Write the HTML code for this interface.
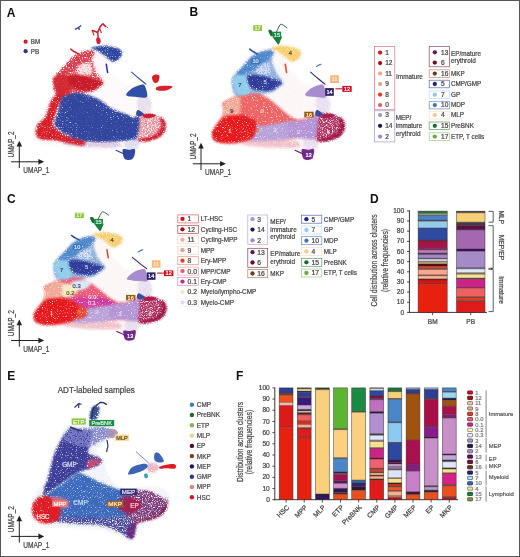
<!DOCTYPE html>
<html><head><meta charset="utf-8"><style>
html,body{margin:0;padding:0;background:#fff;width:520px;height:557px;overflow:hidden;font-family:"Liberation Sans",sans-serif;}
</style></head><body>
<svg width="520" height="557" viewBox="0 0 520 557" style="position:absolute;left:0;top:0;will-change:transform" font-family="Liberation Sans, sans-serif">
<defs>
<filter id="sc" x="-5%" y="-5%" width="110%" height="110%" color-interpolation-filters="sRGB">
  <feGaussianBlur in="SourceGraphic" stdDeviation="1.3" result="sg"/>
  <feGaussianBlur in="SourceAlpha" stdDeviation="1.6" result="ba"/>
  <feTurbulence type="fractalNoise" baseFrequency="0.8" numOctaves="2" seed="7" result="noise"/>
  <feColorMatrix in="noise" type="matrix" values="0 0 0 0 0  0 0 0 0 0  0 0 0 0 0  1 0 0 0 0" result="na"/>
  <feComposite in="na" in2="ba" operator="arithmetic" k1="0" k2="3.5" k3="1.0" k4="-1.45" result="m"/>
  <feComposite in="sg" in2="m" operator="in" result="r"/>
  <feGaussianBlur in="r" stdDeviation="0.45"/>
</filter>
<filter id="scs" x="-5%" y="-5%" width="110%" height="110%" color-interpolation-filters="sRGB">
  <feGaussianBlur in="SourceGraphic" stdDeviation="1.3" result="sg"/>
  <feGaussianBlur in="SourceAlpha" stdDeviation="1.6" result="ba"/>
  <feTurbulence type="fractalNoise" baseFrequency="0.8" numOctaves="2" seed="11" result="noise"/>
  <feColorMatrix in="noise" type="matrix" values="0 0 0 0 0  0 0 0 0 0  0 0 0 0 0  1 0 0 0 0" result="na"/>
  <feComposite in="na" in2="ba" operator="arithmetic" k1="0" k2="3.5" k3="1.0" k4="-1.85" result="m"/>
  <feComposite in="sg" in2="m" operator="in" result="r"/>
  <feGaussianBlur in="r" stdDeviation="0.45"/>
</filter>
</defs>
<rect x="0" y="0" width="520" height="557" fill="#ffffff"/>
<text x="6.8" y="16.6" font-size="12" fill="#111" font-weight="bold" >A</text>
<text x="189.6" y="16.3" font-size="12" fill="#111" font-weight="bold" >B</text>
<text x="7.0" y="202.5" font-size="12" fill="#111" font-weight="bold" >C</text>
<text x="370.0" y="203.0" font-size="12" fill="#111" font-weight="bold" >D</text>
<text x="7.2" y="379.6" font-size="12" fill="#111" font-weight="bold" >E</text>
<text x="236.0" y="379.6" font-size="12" fill="#111" font-weight="bold" >F</text>
<g filter="url(#sc)"><g transform="translate(-179,0)">
<path d="M211.0,137.0 C210.5,134.5 211.2,130.8 212.0,128.0 C212.8,125.2 214.3,122.7 216.0,120.0 C217.7,117.3 220.7,114.8 222.0,112.0 C223.3,109.2 222.7,105.5 224.0,103.0 C225.3,100.5 228.7,99.5 230.0,97.0 C231.3,94.5 231.7,91.2 232.0,88.0 C232.3,84.8 231.0,81.0 232.0,78.0 C233.0,75.0 235.7,73.0 238.0,70.0 C240.3,67.0 244.0,62.7 246.0,60.0 C248.0,57.3 247.3,55.8 250.0,54.0 C252.7,52.2 258.7,50.2 262.0,49.0 C265.3,47.8 266.7,47.7 270.0,47.0 C273.3,46.3 278.0,45.2 282.0,45.0 C286.0,44.8 290.8,45.0 294.0,46.0 C297.2,47.0 299.8,49.0 301.0,51.0 C302.2,53.0 302.2,56.0 301.0,58.0 C299.8,60.0 296.2,61.7 294.0,63.0 C291.8,64.3 287.7,63.8 288.0,66.0 C288.3,68.2 293.3,73.0 296.0,76.0 C298.7,79.0 301.3,82.7 304.0,84.0 C306.7,85.3 309.0,84.2 312.0,84.0 C315.0,83.8 319.3,82.3 322.0,83.0 C324.7,83.7 327.0,85.5 328.0,88.0 C329.0,90.5 328.3,95.0 328.0,98.0 C327.7,101.0 325.7,103.7 326.0,106.0 C326.3,108.3 327.8,110.5 330.0,112.0 C332.2,113.5 336.7,113.5 339.0,115.0 C341.3,116.5 343.3,118.3 344.0,121.0 C344.7,123.7 344.2,128.3 343.0,131.0 C341.8,133.7 340.5,135.3 337.0,137.0 C333.5,138.7 325.2,139.5 322.0,141.0 C318.8,142.5 319.2,143.2 318.0,146.0 C316.8,148.8 316.7,155.5 315.0,158.0 C313.3,160.5 310.5,161.8 308.0,161.0 C305.5,160.2 303.0,154.8 300.0,153.0 C297.0,151.2 295.0,150.5 290.0,150.0 C285.0,149.5 277.0,150.3 270.0,150.0 C263.0,149.7 254.7,148.7 248.0,148.0 C241.3,147.3 235.5,146.8 230.0,146.0 C224.5,145.2 218.2,144.5 215.0,143.0 C211.8,141.5 211.5,139.5 211.0,137.0Z" fill="#fcf6f8" fill-opacity="0.8"/>
</g></g>
<g filter="url(#scs)"><g transform="translate(-179,0)">
<path d="M251.5,56.5 C253.4,55.0 255.2,54.3 257.3,53.3 C259.4,52.3 261.9,51.1 264.2,50.6 C266.5,50.1 269.6,49.6 271.2,50.0 C272.8,50.4 273.9,51.0 274.0,52.7 C274.1,54.4 271.7,56.8 272.0,60.0 C272.3,63.2 274.1,68.2 276.0,72.0 C277.9,75.8 282.7,80.1 283.2,82.7 C283.7,85.3 280.9,86.0 279.0,87.5 C277.1,89.0 274.8,90.9 272.0,92.0 C269.2,93.1 265.3,93.4 262.0,94.0 C258.7,94.6 255.7,95.0 252.0,95.5 C248.3,96.0 243.1,97.4 240.0,97.0 C236.9,96.6 234.9,95.2 233.5,93.0 C232.1,90.8 231.6,86.8 231.4,84.0 C231.2,81.2 231.4,78.8 232.5,76.5 C233.6,74.2 235.8,72.8 238.0,70.5 C240.2,68.2 243.6,64.8 245.8,62.5 C248.1,60.2 249.6,58.0 251.5,56.5Z" fill="#dc4a58" fill-opacity="1"/>
</g></g>
<g filter="url(#sc)"><g transform="translate(-179,0)">
<path d="M246.0,140.5 C249.3,139.9 256.3,140.6 262.0,140.5 C267.7,140.4 274.3,139.9 280.0,140.0 C285.7,140.1 292.7,140.0 296.0,141.0 C299.3,142.0 301.0,144.8 300.0,146.0 C299.0,147.2 295.0,147.8 290.0,148.0 C285.0,148.2 276.3,147.8 270.0,147.5 C263.7,147.2 256.7,146.6 252.0,146.0 C247.3,145.4 243.0,144.9 242.0,144.0 C241.0,143.1 242.7,141.1 246.0,140.5Z" fill="#d8c8e0" fill-opacity="0.9"/>
<path d="M304.0,139.5 C306.2,138.0 316.0,138.5 318.0,140.0 C320.0,141.5 318.2,147.0 316.0,148.5 C313.8,150.0 307.0,150.5 305.0,149.0 C303.0,147.5 301.8,141.0 304.0,139.5Z" fill="#d8daee" fill-opacity="0.9"/>
<path d="M318.0,96.0 C319.8,94.3 324.8,94.7 327.0,96.0 C329.2,97.3 330.7,101.3 331.0,104.0 C331.3,106.7 330.8,110.5 329.0,112.0 C327.2,113.5 322.2,114.0 320.0,113.0 C317.8,112.0 316.3,108.8 316.0,106.0 C315.7,103.2 316.2,97.7 318.0,96.0Z" fill="#e4dcea" fill-opacity="0.9"/>
<path d="M252.0,124.0 C253.8,122.9 257.5,125.2 260.8,125.2 C264.1,125.2 268.0,124.5 271.6,124.0 C275.2,123.5 279.1,122.7 282.3,122.0 C285.5,121.3 288.1,120.2 291.0,120.0 C293.9,119.8 296.8,120.8 300.0,120.5 C303.2,120.2 306.9,119.4 310.0,118.5 C313.1,117.6 316.9,113.8 318.4,115.2 C319.9,116.6 319.4,123.1 319.0,127.0 C318.6,130.9 317.5,136.4 316.0,138.5 C314.5,140.6 312.7,139.4 310.0,139.3 C307.3,139.2 302.8,138.2 300.0,138.0 C297.2,137.8 296.8,137.9 293.0,138.2 C289.2,138.5 282.4,139.4 277.0,139.8 C271.6,140.2 265.0,140.7 260.8,140.8 C256.6,140.9 253.8,142.1 252.0,140.6 C250.2,139.1 250.0,134.8 250.0,132.0 C250.0,129.2 250.2,125.1 252.0,124.0Z" fill="#3048a0" fill-opacity="1"/>
<path d="M252.0,126.0 C253.8,124.7 258.2,125.6 262.0,125.2 C265.8,124.8 271.2,124.1 275.0,123.6 C278.8,123.1 282.8,120.9 285.0,122.0 C287.2,123.1 287.8,127.2 288.0,130.0 C288.2,132.8 289.0,137.2 286.0,139.0 C283.0,140.8 275.2,140.2 270.0,140.5 C264.8,140.8 258.2,141.8 255.0,140.6 C251.8,139.3 251.5,135.4 251.0,133.0 C250.5,130.6 250.2,127.3 252.0,126.0Z" fill="#3048a0" fill-opacity="1"/>
<path d="M238.5,96.5 C240.2,94.9 246.7,94.7 250.0,94.3 C253.3,93.9 255.9,93.8 258.6,94.3 C261.3,94.8 263.7,96.1 266.2,97.5 C268.7,98.9 271.2,100.9 273.7,102.9 C276.2,104.9 279.0,107.4 281.3,109.4 C283.6,111.4 285.4,113.2 287.7,114.8 C290.0,116.4 293.6,118.0 295.3,119.1 C297.0,120.2 298.7,121.2 298.0,121.5 C297.3,121.8 293.6,120.4 291.0,120.6 C288.4,120.8 285.5,121.8 282.3,122.4 C279.1,123.0 275.2,123.7 271.6,124.3 C268.0,124.9 263.6,126.2 260.8,125.8 C258.0,125.4 257.1,123.5 255.0,122.0 C252.9,120.5 250.5,118.5 248.1,117.0 C245.7,115.5 241.9,115.2 240.5,113.0 C239.1,110.8 240.1,106.8 239.8,104.0 C239.5,101.2 236.8,98.1 238.5,96.5Z" fill="#3a4aa0" fill-opacity="1"/>
<path d="M232.3,88.5 C230.9,89.1 236.4,89.7 235.8,92.0 C235.2,94.3 230.7,98.4 228.8,102.5 C226.9,106.6 226.3,112.8 224.2,116.5 C222.1,120.2 217.6,121.6 216.0,124.7 C214.4,127.8 214.0,132.7 214.8,135.2 C215.6,137.7 217.8,139.0 220.7,139.9 C223.6,140.8 227.8,139.9 232.3,140.5 C236.8,141.1 242.4,142.5 247.5,143.4 C252.6,144.3 260.2,146.3 262.7,145.7 C265.2,145.1 264.2,141.3 262.7,139.9 C261.1,138.5 256.5,138.5 253.4,137.5 C250.3,136.5 246.7,135.3 244.0,134.0 C241.3,132.7 238.9,131.0 237.0,129.4 C235.1,127.9 232.9,126.5 232.3,124.7 C231.7,123.0 232.7,121.6 233.5,118.9 C234.3,116.2 235.8,111.4 237.0,108.3 C238.2,105.2 239.3,102.9 240.5,100.2 C241.7,97.5 243.4,94.0 244.0,92.0 C244.6,90.0 245.9,89.1 244.0,88.5 C242.1,87.9 233.7,87.9 232.3,88.5Z" fill="#d8202a" fill-opacity="1"/>
</g></g>
<g filter="url(#scs)"><g transform="translate(-179,0)">
<path d="M246.0,134.0 C248.3,133.5 255.5,136.3 262.0,137.0 C268.5,137.7 277.8,137.9 285.0,138.0 C292.2,138.1 302.5,137.0 305.0,137.5 C307.5,138.0 304.2,140.2 300.0,141.0 C295.8,141.8 286.3,141.8 280.0,142.0 C273.7,142.2 267.3,142.3 262.0,142.0 C256.7,141.7 250.7,141.3 248.0,140.0 C245.3,138.7 243.7,134.5 246.0,134.0Z" fill="#6a50a0" fill-opacity="0.7"/>
</g></g>
<g filter="url(#sc)"><g transform="translate(-179,0)">
<path d="M241.0,97.0 C242.3,96.0 245.5,94.8 248.0,94.0 C250.5,93.2 253.2,92.5 256.0,92.5 C258.8,92.5 262.1,93.2 265.0,94.0 C267.9,94.8 270.9,95.8 273.6,97.0 C276.3,98.2 278.4,99.3 281.0,101.0 C283.6,102.7 286.3,105.3 289.0,107.0 C291.7,108.7 294.2,109.8 297.0,111.0 C299.8,112.2 303.5,112.8 306.0,114.0 C308.5,115.2 310.5,116.3 312.0,118.0 C313.5,119.7 314.5,121.3 315.0,124.0 C315.5,126.7 316.2,131.3 315.0,134.0 C313.8,136.7 311.2,138.8 308.0,140.0 C304.8,141.2 300.7,141.2 296.0,141.5 C291.3,141.8 285.5,142.2 280.0,142.0 C274.5,141.8 267.4,140.8 263.0,140.0 C258.6,139.2 256.6,138.5 253.4,137.5 C250.2,136.5 246.7,135.3 244.0,134.0 C241.3,132.7 238.8,131.0 237.0,129.4 C235.2,127.9 233.5,126.5 233.0,124.7 C232.5,123.0 233.2,121.6 234.0,118.9 C234.8,116.2 236.5,111.4 237.5,108.3 C238.5,105.2 239.4,102.1 240.0,100.2 C240.6,98.3 239.7,98.0 241.0,97.0Z" fill="#3246a0" fill-opacity="1"/>
</g></g>
<g filter="url(#scs)"><g transform="translate(-179,0)">
<path d="M316.0,139.5 C315.3,136.8 316.6,130.1 317.0,126.0 C317.4,121.9 317.0,117.0 318.4,114.8 C319.8,112.6 322.9,112.8 325.4,112.6 C327.9,112.4 331.1,113.1 333.5,113.8 C335.9,114.5 338.2,115.4 340.0,116.8 C341.8,118.2 343.8,119.8 344.5,122.0 C345.2,124.2 345.2,127.6 344.5,130.0 C343.8,132.4 342.2,134.8 340.0,136.5 C337.8,138.2 334.2,139.6 331.0,140.5 C327.8,141.4 323.5,142.2 321.0,142.0 C318.5,141.8 316.7,142.2 316.0,139.5Z" fill="#e07080" fill-opacity="0.8"/>
</g></g>
<g filter="url(#sc)"><g transform="translate(-179,0)">
<path d="M340.0,116.8 C341.0,117.1 343.8,119.8 344.5,122.0 C345.2,124.2 345.2,127.6 344.5,130.0 C343.8,132.4 342.2,134.8 340.0,136.5 C337.8,138.2 334.2,139.6 331.0,140.5 C327.8,141.4 323.5,142.2 321.0,142.0 C318.5,141.8 315.8,140.2 316.0,139.5 C316.2,138.8 319.7,138.6 322.0,138.0 C324.3,137.4 327.6,137.0 330.0,136.0 C332.4,135.0 334.8,133.8 336.5,132.0 C338.2,130.2 339.7,127.5 340.0,125.5 C340.3,123.5 338.5,121.5 338.5,120.0 C338.5,118.5 339.0,116.5 340.0,116.8Z" fill="#cc2030" fill-opacity="1"/>
<path d="M233.1,76.9 C231.4,78.2 231.7,79.6 231.9,81.5 C232.1,83.4 233.2,86.4 234.2,88.5 C235.2,90.6 235.8,93.0 237.7,94.2 C239.6,95.4 243.8,96.1 245.8,95.6 C247.9,95.1 249.1,92.9 250.0,91.0 C250.9,89.1 251.3,86.2 251.0,84.0 C250.7,81.8 249.4,79.2 248.0,77.5 C246.6,75.8 244.8,73.7 242.3,73.6 C239.8,73.5 234.8,75.6 233.1,76.9Z" fill="#d22a34" fill-opacity="1"/>
</g></g>
<g filter="url(#scs)"><g transform="translate(-179,0)">
<path d="M251.5,57.3 C253.4,55.8 255.2,54.8 257.3,53.8 C259.4,52.8 261.9,51.6 264.2,51.0 C266.5,50.4 269.6,50.1 271.2,50.4 C272.8,50.7 273.9,51.2 273.5,52.7 C273.1,54.2 271.1,57.1 268.8,59.6 C266.5,62.1 262.7,65.6 259.6,67.7 C256.5,69.8 253.3,71.0 250.4,72.3 C247.5,73.5 244.6,75.0 242.3,75.2 C240.0,75.5 236.7,74.9 236.5,73.8 C236.3,72.7 239.6,70.6 241.2,68.8 C242.8,67.0 244.1,64.9 245.8,63.0 C247.5,61.1 249.6,58.8 251.5,57.3Z" fill="#d83a4a" fill-opacity="1"/>
</g></g>
<g filter="url(#sc)"><g transform="translate(-179,0)">
<path d="M257.0,66.0 C258.3,64.7 261.1,63.7 263.0,63.0 C264.9,62.3 267.2,61.3 268.5,62.0 C269.8,62.7 270.6,65.0 271.0,67.0 C271.4,69.0 272.0,72.7 271.0,74.0 C270.0,75.3 267.2,74.9 265.0,75.0 C262.8,75.1 259.7,75.2 258.0,74.5 C256.3,73.8 255.2,72.4 255.0,71.0 C254.8,69.6 255.7,67.3 257.0,66.0Z" fill="#faf0f2" fill-opacity="0.9"/>
<path d="M246.9,75.8 C248.1,74.3 252.3,74.6 255.0,74.6 C257.7,74.6 260.4,75.2 263.1,75.8 C265.8,76.4 268.5,77.3 271.2,78.1 C273.9,78.9 277.3,79.6 279.2,80.4 C281.1,81.2 282.9,81.7 282.7,82.7 C282.5,83.7 280.0,84.9 278.1,86.2 C276.2,87.5 274.3,90.0 271.2,90.8 C268.1,91.6 262.9,91.2 259.6,90.8 C256.3,90.4 253.4,89.7 251.5,88.5 C249.6,87.3 248.9,85.9 248.1,83.8 C247.3,81.7 245.8,77.3 246.9,75.8Z" fill="#c81a28" fill-opacity="1"/>
<path d="M269.6,48.5 C269.6,47.7 272.9,46.7 275.4,46.2 C277.9,45.7 281.5,45.4 284.6,45.6 C287.7,45.8 291.3,46.6 293.8,47.3 C296.3,48.0 298.4,48.5 299.6,49.6 C300.9,50.8 301.5,52.7 301.3,54.2 C301.1,55.7 299.9,57.4 298.5,58.8 C297.1,60.1 294.6,62.3 292.7,62.3 C290.8,62.3 288.8,60.1 286.9,58.8 C285.0,57.4 283.1,55.5 281.2,54.2 C279.3,52.9 277.3,51.8 275.4,50.8 C273.5,49.8 269.6,49.3 269.6,48.5Z" fill="#2e46a0" fill-opacity="1"/>
</g></g>
<g transform="translate(-179,0)">
<path d="M322.0,114.6 C323.2,114.0 327.8,113.6 330.0,113.8 C332.2,114.0 335.2,114.8 335.0,115.5 C334.8,116.2 331.0,117.7 329.0,118.0 C327.0,118.3 324.2,118.2 323.0,117.6 C321.8,117.0 320.8,115.2 322.0,114.6Z" fill="#cc2030" fill-opacity="1"/>
<path d="M315.4,112.0 C315.7,111.1 316.2,109.6 317.5,110.0 C318.8,110.4 322.8,113.2 323.0,114.2 C323.2,115.2 320.2,116.1 319.0,116.3 C317.8,116.5 316.2,116.3 315.6,115.6 C315.0,114.9 315.1,112.9 315.4,112.0Z" fill="#3a4aa0" fill-opacity="1"/>
<path d="M302.0,149.3 C303.0,148.6 306.1,149.9 308.0,149.8 C309.9,149.8 312.8,148.1 313.7,149.0 C314.6,149.9 314.0,153.2 313.5,155.0 C313.0,156.8 312.1,158.9 310.5,159.6 C308.9,160.3 305.4,160.1 304.0,159.2 C302.6,158.3 302.3,155.7 302.0,154.0 C301.7,152.3 301.0,150.0 302.0,149.3Z" fill="#3048a0" fill-opacity="1"/>
<path d="M305.3,95.3 C304.3,93.8 309.0,89.9 311.5,88.1 C314.0,86.3 318.1,85.0 320.2,84.7 C322.3,84.4 323.0,84.2 324.0,86.2 C325.0,88.2 327.1,94.9 326.0,96.7 C324.9,98.5 320.8,97.4 317.3,97.2 C313.9,97.0 306.3,96.8 305.3,95.3Z" fill="#3050a8" fill-opacity="1"/>
<path d="M331.0,77.0 C331.3,75.7 333.8,74.7 335.0,74.5 C336.2,74.3 338.2,74.8 338.5,76.0 C338.8,77.2 337.9,80.9 337.0,82.0 C336.1,83.1 334.0,83.3 333.0,82.5 C332.0,81.7 330.7,78.3 331.0,77.0Z" fill="#d82028" fill-opacity="1"/>
<path d="M335.4,87.2 C336.4,86.5 339.3,85.9 342.0,85.8 C344.7,85.7 351.0,85.7 351.5,86.5 C352.0,87.3 347.6,89.9 345.0,90.5 C342.4,91.1 337.6,90.8 336.0,90.2 C334.4,89.7 334.4,87.9 335.4,87.2Z" fill="#d82028" fill-opacity="1"/>
<path d="M275.3,38.5 C275.6,37.5 277.3,37.2 278.0,37.5 C278.7,37.8 279.4,39.0 279.6,40.0 C279.8,41.0 279.6,42.9 279.0,43.5 C278.4,44.1 276.6,44.3 276.0,43.5 C275.4,42.7 275.0,39.5 275.3,38.5Z" fill="#d02030" fill-opacity="1"/>
<path d="M249.8,49.2 C250.4,49.6 252.2,51.0 253.5,51.8 C254.8,52.6 256.7,53.5 257.3,53.8" fill="none" stroke="#d02030" stroke-width="1.6" stroke-linecap="round"/>
<path d="M310.6,72.2 C311.8,73.2 315.6,76.5 318.0,78.5 C320.4,80.5 323.8,83.2 325.0,84.2" fill="none" stroke="#3a4a9a" stroke-width="1.1" stroke-linecap="round"/>
<path d="M285.3,64.2 C285.4,64.9 285.7,67.1 285.9,68.5 C286.1,69.9 286.5,71.8 286.6,72.5" fill="none" stroke="#2b3a8c" stroke-width="1.6" stroke-linecap="round"/>
<path d="M295.0,150.2 C295.8,150.6 298.4,151.7 300.0,152.5 C301.6,153.3 303.6,154.5 304.3,154.9" fill="none" stroke="#3040a0" stroke-width="1.1" stroke-linecap="round"/>
<path d="M276.5,32.0 C276.8,31.4 277.5,29.5 278.2,28.2 C278.9,26.9 279.7,24.9 280.6,24.4 C281.5,23.9 282.6,24.8 283.6,25.4 C284.7,26.0 286.3,27.4 286.9,27.8" fill="none" stroke="#a02030" stroke-width="0.8" stroke-linecap="round"/>
</g>
<line x1="19.3" y1="144.8" x2="19.3" y2="168" stroke="#222" stroke-width="1"/><path d="M19.3,140.8 L22.1,146.60000000000002 L16.5,146.60000000000002 Z" fill="#222"/><line x1="11.1" y1="161.8" x2="40.2" y2="161.8" stroke="#222" stroke-width="1"/><path d="M44.2,161.8 L38.400000000000006,159.0 L38.400000000000006,164.60000000000002 Z" fill="#222"/><text x="23.3" y="173.2" font-size="8.8" fill="#3c3c3c" stroke="#3c3c3c" stroke-width="0.22" textLength="26.2" lengthAdjust="spacingAndGlyphs" >UMAP_1</text><g transform="translate(14.2,157.6) rotate(-90)"><text x="0" y="0" font-size="8.8" fill="#3c3c3c" stroke="#3c3c3c" stroke-width="0.22" textLength="26.2" lengthAdjust="spacingAndGlyphs" >UMAP_2</text></g>
<circle cx="25.6" cy="41.7" r="2.1" fill="#d01c24"/>
<circle cx="25.6" cy="51.2" r="2.1" fill="#2b3a8c"/>
<text x="30.8" y="44.0" font-size="6.8" fill="#444" stroke="#444" stroke-width="0.22" textLength="9.38" lengthAdjust="spacingAndGlyphs" >BM</text>
<text x="30.8" y="53.5" font-size="6.8" fill="#444" stroke="#444" stroke-width="0.22" textLength="8.35" lengthAdjust="spacingAndGlyphs" >PB</text>
<g transform="translate(-179,0)">
<path d="M277.4,43 L277,36 L276.7,32.5 L272.5,30.8 L270.6,30.5 M276.7,32.5 L279.4,26.5 L282,23.8 L284.8,27.1" stroke="#d02030" stroke-width="1.5" fill="none" stroke-linejoin="round"/>
<path d="M271.5,31 L273,35.5 M278.8,29 L280.5,33" stroke="#d02030" stroke-width="1.1" fill="none"/>
<path d="M254,29.3 L257.5,27.5 L260.2,25.5 M257.5,27.5 L258.5,29.8" stroke="#2b3a8c" stroke-width="1.3" fill="none"/>
</g>
<g filter="url(#sc)"><g transform="">
<path d="M211.0,137.0 C210.5,134.5 211.2,130.8 212.0,128.0 C212.8,125.2 214.3,122.7 216.0,120.0 C217.7,117.3 220.7,114.8 222.0,112.0 C223.3,109.2 222.7,105.5 224.0,103.0 C225.3,100.5 228.7,99.5 230.0,97.0 C231.3,94.5 231.7,91.2 232.0,88.0 C232.3,84.8 231.0,81.0 232.0,78.0 C233.0,75.0 235.7,73.0 238.0,70.0 C240.3,67.0 244.0,62.7 246.0,60.0 C248.0,57.3 247.3,55.8 250.0,54.0 C252.7,52.2 258.7,50.2 262.0,49.0 C265.3,47.8 266.7,47.7 270.0,47.0 C273.3,46.3 278.0,45.2 282.0,45.0 C286.0,44.8 290.8,45.0 294.0,46.0 C297.2,47.0 299.8,49.0 301.0,51.0 C302.2,53.0 302.2,56.0 301.0,58.0 C299.8,60.0 296.2,61.7 294.0,63.0 C291.8,64.3 287.7,63.8 288.0,66.0 C288.3,68.2 293.3,73.0 296.0,76.0 C298.7,79.0 301.3,82.7 304.0,84.0 C306.7,85.3 309.0,84.2 312.0,84.0 C315.0,83.8 319.3,82.3 322.0,83.0 C324.7,83.7 327.0,85.5 328.0,88.0 C329.0,90.5 328.3,95.0 328.0,98.0 C327.7,101.0 325.7,103.7 326.0,106.0 C326.3,108.3 327.8,110.5 330.0,112.0 C332.2,113.5 336.7,113.5 339.0,115.0 C341.3,116.5 343.3,118.3 344.0,121.0 C344.7,123.7 344.2,128.3 343.0,131.0 C341.8,133.7 340.5,135.3 337.0,137.0 C333.5,138.7 325.2,139.5 322.0,141.0 C318.8,142.5 319.2,143.2 318.0,146.0 C316.8,148.8 316.7,155.5 315.0,158.0 C313.3,160.5 310.5,161.8 308.0,161.0 C305.5,160.2 303.0,154.8 300.0,153.0 C297.0,151.2 295.0,150.5 290.0,150.0 C285.0,149.5 277.0,150.3 270.0,150.0 C263.0,149.7 254.7,148.7 248.0,148.0 C241.3,147.3 235.5,146.8 230.0,146.0 C224.5,145.2 218.2,144.5 215.0,143.0 C211.8,141.5 211.5,139.5 211.0,137.0Z" fill="#fcf5f5" fill-opacity="0.9"/>
<path d="M251.5,56.5 C253.4,55.0 255.2,54.3 257.3,53.3 C259.4,52.3 261.9,51.1 264.2,50.6 C266.5,50.1 269.6,49.6 271.2,50.0 C272.8,50.4 273.9,51.0 274.0,52.7 C274.1,54.4 271.7,56.8 272.0,60.0 C272.3,63.2 274.1,68.2 276.0,72.0 C277.9,75.8 282.7,80.1 283.2,82.7 C283.7,85.3 280.9,86.0 279.0,87.5 C277.1,89.0 274.8,90.9 272.0,92.0 C269.2,93.1 265.3,93.4 262.0,94.0 C258.7,94.6 255.7,95.0 252.0,95.5 C248.3,96.0 243.1,97.4 240.0,97.0 C236.9,96.6 234.9,95.2 233.5,93.0 C232.1,90.8 231.6,86.8 231.4,84.0 C231.2,81.2 231.4,78.8 232.5,76.5 C233.6,74.2 235.8,72.8 238.0,70.5 C240.2,68.2 243.6,64.8 245.8,62.5 C248.1,60.2 249.6,58.0 251.5,56.5Z" fill="#8eaedc" fill-opacity="1"/>
<path d="M222.0,103.0 C223.2,101.1 227.1,99.8 229.8,98.5 C232.6,97.2 235.1,96.3 238.5,95.5 C241.9,94.7 246.7,94.1 250.0,93.8 C253.3,93.5 255.9,93.3 258.6,93.8 C261.3,94.3 263.7,95.5 266.2,97.0 C268.7,98.5 271.2,100.5 273.7,102.5 C276.2,104.5 279.0,107.0 281.3,109.0 C283.6,111.0 285.4,112.9 287.7,114.5 C290.0,116.1 292.4,118.1 295.3,118.8 C298.2,119.5 301.1,119.3 305.0,118.6 C308.9,117.9 316.1,112.9 318.4,114.8 C320.6,116.7 318.9,126.0 318.5,130.0 C318.1,134.0 319.1,137.6 316.0,139.0 C312.9,140.4 306.5,138.3 300.0,138.5 C293.5,138.7 283.5,139.9 277.0,140.3 C270.5,140.8 265.3,141.1 260.8,141.2 C256.3,141.3 253.0,140.8 250.0,141.0 C247.0,141.2 245.7,141.7 242.7,142.2 C239.7,142.7 235.6,143.6 232.0,143.8 C228.4,144.0 224.2,143.8 221.2,143.3 C218.2,142.8 215.8,142.2 214.2,141.0 C212.6,139.8 211.8,138.1 211.5,136.3 C211.2,134.6 211.3,132.6 212.2,130.5 C213.0,128.4 215.1,126.1 216.6,124.0 C218.1,121.9 220.0,120.3 221.0,118.0 C222.0,115.7 222.6,112.5 222.8,110.0 C223.0,107.5 220.8,104.9 222.0,103.0Z" fill="#ec7a78" fill-opacity="1"/>
<path d="M246.0,140.5 C249.3,139.9 256.3,140.6 262.0,140.5 C267.7,140.4 274.3,139.9 280.0,140.0 C285.7,140.1 292.7,140.0 296.0,141.0 C299.3,142.0 301.0,144.8 300.0,146.0 C299.0,147.2 295.0,147.8 290.0,148.0 C285.0,148.2 276.3,147.8 270.0,147.5 C263.7,147.2 256.7,146.6 252.0,146.0 C247.3,145.4 243.0,144.9 242.0,144.0 C241.0,143.1 242.7,141.1 246.0,140.5Z" fill="#eebcc4" fill-opacity="0.9"/>
<path d="M304.0,139.5 C306.2,138.0 316.0,138.5 318.0,140.0 C320.0,141.5 318.2,147.0 316.0,148.5 C313.8,150.0 307.0,150.5 305.0,149.0 C303.0,147.5 301.8,141.0 304.0,139.5Z" fill="#e6dcee" fill-opacity="0.9"/>
<path d="M318.0,96.0 C319.8,94.3 324.8,94.7 327.0,96.0 C329.2,97.3 330.7,101.3 331.0,104.0 C331.3,106.7 330.8,110.5 329.0,112.0 C327.2,113.5 322.2,114.0 320.0,113.0 C317.8,112.0 316.3,108.8 316.0,106.0 C315.7,103.2 316.2,97.7 318.0,96.0Z" fill="#e6def0" fill-opacity="0.9"/>
<path d="M252.0,124.0 C253.8,122.9 257.5,125.2 260.8,125.2 C264.1,125.2 268.0,124.5 271.6,124.0 C275.2,123.5 279.1,122.7 282.3,122.0 C285.5,121.3 288.1,120.2 291.0,120.0 C293.9,119.8 296.8,120.8 300.0,120.5 C303.2,120.2 306.9,119.4 310.0,118.5 C313.1,117.6 316.9,113.8 318.4,115.2 C319.9,116.6 319.4,123.1 319.0,127.0 C318.6,130.9 317.5,136.4 316.0,138.5 C314.5,140.6 312.7,139.4 310.0,139.3 C307.3,139.2 302.8,138.2 300.0,138.0 C297.2,137.8 296.8,137.9 293.0,138.2 C289.2,138.5 282.4,139.4 277.0,139.8 C271.6,140.2 265.0,140.7 260.8,140.8 C256.6,140.9 253.8,142.1 252.0,140.6 C250.2,139.1 250.0,134.8 250.0,132.0 C250.0,129.2 250.2,125.1 252.0,124.0Z" fill="#b494d4" fill-opacity="1"/>
<path d="M252.0,126.0 C253.8,124.7 258.2,125.6 262.0,125.2 C265.8,124.8 271.2,124.1 275.0,123.6 C278.8,123.1 282.8,120.9 285.0,122.0 C287.2,123.1 287.8,127.2 288.0,130.0 C288.2,132.8 289.0,137.2 286.0,139.0 C283.0,140.8 275.2,140.2 270.0,140.5 C264.8,140.8 258.2,141.8 255.0,140.6 C251.8,139.3 251.5,135.4 251.0,133.0 C250.5,130.6 250.2,127.3 252.0,126.0Z" fill="#b8a2d8" fill-opacity="1"/>
<path d="M238.5,96.5 C240.2,94.9 246.7,94.7 250.0,94.3 C253.3,93.9 255.9,93.8 258.6,94.3 C261.3,94.8 263.7,96.1 266.2,97.5 C268.7,98.9 271.2,100.9 273.7,102.9 C276.2,104.9 279.0,107.4 281.3,109.4 C283.6,111.4 285.4,113.2 287.7,114.8 C290.0,116.4 293.6,118.0 295.3,119.1 C297.0,120.2 298.7,121.2 298.0,121.5 C297.3,121.8 293.6,120.4 291.0,120.6 C288.4,120.8 285.5,121.8 282.3,122.4 C279.1,123.0 275.2,123.7 271.6,124.3 C268.0,124.9 263.6,126.2 260.8,125.8 C258.0,125.4 257.1,123.5 255.0,122.0 C252.9,120.5 250.5,118.5 248.1,117.0 C245.7,115.5 241.9,115.2 240.5,113.0 C239.1,110.8 240.1,106.8 239.8,104.0 C239.5,101.2 236.8,98.1 238.5,96.5Z" fill="#ee6464" fill-opacity="1"/>
<path d="M224.4,104.0 C225.5,102.4 227.7,101.0 229.8,99.7 C232.0,98.5 235.5,96.5 237.3,96.5 C239.1,96.5 240.1,97.5 240.6,99.7 C241.1,101.9 240.8,106.9 240.5,109.4 C240.2,111.9 239.9,113.8 238.5,114.8 C237.1,115.8 234.0,115.1 232.0,115.3 C230.0,115.5 228.2,115.6 226.6,115.9 C225.0,116.2 222.8,118.1 222.2,117.0 C221.6,115.9 222.8,111.6 223.2,109.4 C223.6,107.2 223.3,105.6 224.4,104.0Z" fill="#f2aa98" fill-opacity="1"/>
<path d="M212.0,136.3 C211.6,134.7 211.7,133.0 212.5,131.0 C213.3,129.0 215.5,126.5 216.9,124.5 C218.3,122.5 219.6,120.5 221.2,119.1 C222.8,117.7 224.6,116.5 226.6,115.9 C228.6,115.3 230.8,115.5 233.0,115.3 C235.2,115.1 237.0,114.5 239.5,114.8 C242.0,115.1 245.5,116.0 248.1,117.0 C250.7,118.0 253.6,118.8 255.0,120.5 C256.4,122.2 256.6,124.6 256.5,127.0 C256.4,129.4 255.5,132.9 254.5,135.0 C253.5,137.1 252.3,138.5 250.3,139.6 C248.3,140.7 245.8,141.1 242.7,141.7 C239.6,142.3 235.6,143.1 232.0,143.3 C228.4,143.5 224.1,143.2 221.2,142.8 C218.3,142.4 216.2,141.7 214.7,140.6 C213.2,139.5 212.4,137.9 212.0,136.3Z" fill="#e8191c" fill-opacity="1"/>
</g></g>
<g filter="url(#scs)"><g transform="">
<path d="M316.0,139.5 C315.3,136.8 316.6,130.1 317.0,126.0 C317.4,121.9 317.0,117.0 318.4,114.8 C319.8,112.6 322.9,112.8 325.4,112.6 C327.9,112.4 331.1,113.1 333.5,113.8 C335.9,114.5 338.2,115.4 340.0,116.8 C341.8,118.2 343.8,119.8 344.5,122.0 C345.2,124.2 345.2,127.6 344.5,130.0 C343.8,132.4 342.2,134.8 340.0,136.5 C337.8,138.2 334.2,139.6 331.0,140.5 C327.8,141.4 323.5,142.2 321.0,142.0 C318.5,141.8 316.7,142.2 316.0,139.5Z" fill="#b03060" fill-opacity="1"/>
</g></g>
<g filter="url(#sc)"><g transform="">
<path d="M340.0,116.8 C341.0,117.1 343.8,119.8 344.5,122.0 C345.2,124.2 345.2,127.6 344.5,130.0 C343.8,132.4 342.2,134.8 340.0,136.5 C337.8,138.2 334.2,139.6 331.0,140.5 C327.8,141.4 323.5,142.2 321.0,142.0 C318.5,141.8 315.8,140.2 316.0,139.5 C316.2,138.8 319.7,138.6 322.0,138.0 C324.3,137.4 327.6,137.0 330.0,136.0 C332.4,135.0 334.8,133.8 336.5,132.0 C338.2,130.2 339.7,127.5 340.0,125.5 C340.3,123.5 338.5,121.5 338.5,120.0 C338.5,118.5 339.0,116.5 340.0,116.8Z" fill="#a01848" fill-opacity="1"/>
<path d="M233.1,76.9 C231.4,78.2 231.7,79.6 231.9,81.5 C232.1,83.4 233.2,86.4 234.2,88.5 C235.2,90.6 235.8,93.0 237.7,94.2 C239.6,95.4 243.8,96.1 245.8,95.6 C247.9,95.1 249.1,92.9 250.0,91.0 C250.9,89.1 251.3,86.2 251.0,84.0 C250.7,81.8 249.4,79.2 248.0,77.5 C246.6,75.8 244.8,73.7 242.3,73.6 C239.8,73.5 234.8,75.6 233.1,76.9Z" fill="#92cdec" fill-opacity="1"/>
<path d="M251.5,57.3 C253.4,55.8 255.2,54.8 257.3,53.8 C259.4,52.8 261.9,51.6 264.2,51.0 C266.5,50.4 269.6,50.1 271.2,50.4 C272.8,50.7 273.9,51.2 273.5,52.7 C273.1,54.2 271.1,57.1 268.8,59.6 C266.5,62.1 262.7,65.6 259.6,67.7 C256.5,69.8 253.3,71.0 250.4,72.3 C247.5,73.5 244.6,75.0 242.3,75.2 C240.0,75.5 236.7,74.9 236.5,73.8 C236.3,72.7 239.6,70.6 241.2,68.8 C242.8,67.0 244.1,64.9 245.8,63.0 C247.5,61.1 249.6,58.8 251.5,57.3Z" fill="#5088cc" fill-opacity="1"/>
</g></g>
<g filter="url(#scs)"><g transform="">
<path d="M257.0,66.0 C258.3,64.7 261.1,63.7 263.0,63.0 C264.9,62.3 267.2,61.3 268.5,62.0 C269.8,62.7 270.6,65.0 271.0,67.0 C271.4,69.0 272.0,72.7 271.0,74.0 C270.0,75.3 267.2,74.9 265.0,75.0 C262.8,75.1 259.7,75.2 258.0,74.5 C256.3,73.8 255.2,72.4 255.0,71.0 C254.8,69.6 255.7,67.3 257.0,66.0Z" fill="#dce4f6" fill-opacity="0.9"/>
</g></g>
<g filter="url(#sc)"><g transform="">
<path d="M246.9,75.8 C248.1,74.3 252.3,74.6 255.0,74.6 C257.7,74.6 260.4,75.2 263.1,75.8 C265.8,76.4 268.5,77.3 271.2,78.1 C273.9,78.9 277.3,79.6 279.2,80.4 C281.1,81.2 282.9,81.7 282.7,82.7 C282.5,83.7 280.0,84.9 278.1,86.2 C276.2,87.5 274.3,90.0 271.2,90.8 C268.1,91.6 262.9,91.2 259.6,90.8 C256.3,90.4 253.4,89.7 251.5,88.5 C249.6,87.3 248.9,85.9 248.1,83.8 C247.3,81.7 245.8,77.3 246.9,75.8Z" fill="#2f3c98" fill-opacity="1"/>
<path d="M269.6,48.5 C269.6,47.7 272.9,46.7 275.4,46.2 C277.9,45.7 281.5,45.4 284.6,45.6 C287.7,45.8 291.3,46.6 293.8,47.3 C296.3,48.0 298.4,48.5 299.6,49.6 C300.9,50.8 301.5,52.7 301.3,54.2 C301.1,55.7 299.9,57.4 298.5,58.8 C297.1,60.1 294.6,62.3 292.7,62.3 C290.8,62.3 288.8,60.1 286.9,58.8 C285.0,57.4 283.1,55.5 281.2,54.2 C279.3,52.9 277.3,51.8 275.4,50.8 C273.5,49.8 269.6,49.3 269.6,48.5Z" fill="#f8cf70" fill-opacity="1"/>
</g></g>
<g transform="">
<path d="M322.0,114.6 C323.2,114.0 327.8,113.6 330.0,113.8 C332.2,114.0 335.2,114.8 335.0,115.5 C334.8,116.2 331.0,117.7 329.0,118.0 C327.0,118.3 324.2,118.2 323.0,117.6 C321.8,117.0 320.8,115.2 322.0,114.6Z" fill="#a82050" fill-opacity="1"/>
<path d="M315.4,112.0 C315.7,111.1 316.2,109.6 317.5,110.0 C318.8,110.4 322.8,113.2 323.0,114.2 C323.2,115.2 320.2,116.1 319.0,116.3 C317.8,116.5 316.2,116.3 315.6,115.6 C315.0,114.9 315.1,112.9 315.4,112.0Z" fill="#3a4aa0" fill-opacity="1"/>
<path d="M302.0,149.3 C303.0,148.6 306.1,149.9 308.0,149.8 C309.9,149.8 312.8,148.1 313.7,149.0 C314.6,149.9 314.0,153.2 313.5,155.0 C313.0,156.8 312.1,158.9 310.5,159.6 C308.9,160.3 305.4,160.1 304.0,159.2 C302.6,158.3 302.3,155.7 302.0,154.0 C301.7,152.3 301.0,150.0 302.0,149.3Z" fill="#7a2a8e" fill-opacity="1"/>
<path d="M273.5,36.5 C274.7,36.0 280.2,35.8 281.4,36.5 C282.6,37.2 281.0,39.1 280.5,40.5 C280.0,41.9 279.2,44.3 278.6,44.6 C278.0,44.9 277.3,43.4 276.6,42.5 C275.9,41.6 274.8,40.5 274.3,39.5 C273.8,38.5 272.3,37.0 273.5,36.5Z" fill="#1c7d3e" fill-opacity="1"/>
<path d="M268.3,30.6 C268.4,29.7 270.2,29.7 271.0,30.0 C271.8,30.3 272.5,31.5 272.8,32.5 C273.1,33.5 273.0,35.5 272.6,36.0 C272.2,36.5 271.1,36.3 270.4,35.4 C269.7,34.5 268.2,31.5 268.3,30.6Z" fill="#1c6a38" fill-opacity="1"/>
<path d="M305.3,95.3 C304.3,93.8 309.0,89.9 311.5,88.1 C314.0,86.3 318.1,85.0 320.2,84.7 C322.3,84.4 323.0,84.2 324.0,86.2 C325.0,88.2 327.1,94.9 326.0,96.7 C324.9,98.5 320.8,97.4 317.3,97.2 C313.9,97.0 306.3,96.8 305.3,95.3Z" fill="#a88cd0" fill-opacity="1"/>
<path d="M249.8,49.2 C250.4,49.6 252.2,51.0 253.5,51.8 C254.8,52.6 256.7,53.5 257.3,53.8" fill="none" stroke="#2a4aa0" stroke-width="1.6" stroke-linecap="round"/>
<path d="M310.6,72.2 C311.8,73.2 315.6,76.5 318.0,78.5 C320.4,80.5 323.8,83.2 325.0,84.2" fill="none" stroke="#2a2a6a" stroke-width="1.1" stroke-linecap="round"/>
<path d="M285.3,64.2 C285.4,64.9 285.7,67.1 285.9,68.5 C286.1,69.9 286.5,71.8 286.6,72.5" fill="none" stroke="#e04a30" stroke-width="1.6" stroke-linecap="round"/>
<path d="M295.0,150.2 C295.8,150.6 298.4,151.7 300.0,152.5 C301.6,153.3 303.6,154.5 304.3,154.9" fill="none" stroke="#5a1a6a" stroke-width="1.1" stroke-linecap="round"/>
<path d="M316.5,66.5 C316.8,66.3 317.8,65.6 318.5,65.2 C319.2,64.8 320.6,64.5 321.0,64.3" fill="none" stroke="#4a7ac8" stroke-width="1.2" stroke-linecap="round"/>
<path d="M276.5,32.0 C276.8,31.4 277.5,29.5 278.2,28.2 C278.9,26.9 279.7,24.9 280.6,24.4 C281.5,23.9 282.6,24.8 283.6,25.4 C284.7,26.0 286.3,27.4 286.9,27.8" fill="none" stroke="#1a4a30" stroke-width="0.9" stroke-linecap="round"/>
</g>
<rect x="253.2" y="25.2" width="8.9" height="5.7" fill="#8dc63f"/><text x="257.6" y="30.1" font-size="5.6" fill="#e8f5d8" stroke="#e8f5d8" stroke-width="0.22" text-anchor="middle" >17</text>
<rect x="272.5" y="31.7" width="8.7" height="5.8" fill="#1a8a45"/><text x="276.9" y="36.6" font-size="5.6" fill="#d8f0e0" stroke="#d8f0e0" stroke-width="0.22" text-anchor="middle" >15</text>
<text x="290.4" y="55.4" font-size="5.8" fill="#5a4a20" stroke="#5a4a20" stroke-width="0.22" text-anchor="middle" >4</text>
<rect x="251.2" y="58.4" width="8.6" height="5.6" fill="#3a6eb6"/><text x="255.5" y="63.2" font-size="5.6" fill="#d8e8f8" stroke="#d8e8f8" stroke-width="0.22" text-anchor="middle" >10</text>
<text x="239.8" y="87.1" font-size="5.8" fill="#2a4a8a" stroke="#2a4a8a" stroke-width="0.22" text-anchor="middle" >7</text>
<text x="265.0" y="84.1" font-size="5.8" fill="#c8cce8" stroke="#c8cce8" stroke-width="0.22" text-anchor="middle" >5</text>
<rect x="330.1" y="75.3" width="8.7" height="7.7" fill="#f5b87a"/><text x="334.5" y="81.2" font-size="5.6" fill="#fde8d0" stroke="#fde8d0" stroke-width="0.22" text-anchor="middle" >11</text>
<rect x="325.2" y="88.1" width="8.6" height="7.7" fill="#2a1f5e"/><text x="329.5" y="94.0" font-size="5.6" fill="#ffffff" stroke="#ffffff" stroke-width="0.22" text-anchor="middle" >14</text>
<line x1="335.4" y1="88.8" x2="342.3" y2="88.8" stroke="#d01020" stroke-width="1.1"/>
<rect x="342.3" y="85.9" width="9.4" height="6.0" fill="#d01020"/><text x="347.0" y="90.9" font-size="5.6" fill="#ffffff" stroke="#ffffff" stroke-width="0.22" text-anchor="middle" >12</text>
<rect x="304.3" y="111.7" width="9.4" height="5.8" fill="#9a5a10"/><text x="309.0" y="116.6" font-size="5.6" fill="#fff0d0" stroke="#fff0d0" stroke-width="0.22" text-anchor="middle" >16</text>
<rect x="304.3" y="151.4" width="8.5" height="7.2" fill="#6a2a8a"/><text x="308.6" y="157.0" font-size="5.6" fill="#ffffff" stroke="#ffffff" stroke-width="0.22" text-anchor="middle" >13</text>
<text x="231.9" y="113.1" font-size="5.8" fill="#5a3030" stroke="#5a3030" stroke-width="0.22" text-anchor="middle" >9</text>
<text x="262.0" y="112.7" font-size="5.8" fill="#fad0d0" stroke="#fad0d0" stroke-width="0.22" text-anchor="middle" >0</text>
<text x="229.8" y="133.1" font-size="5.8" fill="#fbc8c0" stroke="#fbc8c0" stroke-width="0.22" text-anchor="middle" >1</text>
<text x="257.0" y="131.5" font-size="5.8" fill="#e07030" stroke="#e07030" stroke-width="0.22" text-anchor="middle" >8</text>
<text x="274.8" y="132.0" font-size="5.8" fill="#e0d4f0" stroke="#e0d4f0" stroke-width="0.22" text-anchor="middle" >3</text>
<text x="298.5" y="134.2" font-size="5.8" fill="#e4d8f4" stroke="#e4d8f4" stroke-width="0.22" text-anchor="middle" >2</text>
<text x="328.3" y="134.2" font-size="5.8" fill="#f0d0dc" stroke="#f0d0dc" stroke-width="0.22" text-anchor="middle" >6</text>
<line x1="201.0" y1="146.8" x2="201.0" y2="170" stroke="#222" stroke-width="1"/><path d="M201.0,142.8 L203.8,148.60000000000002 L198.2,148.60000000000002 Z" fill="#222"/><line x1="192.79999999999998" y1="163.8" x2="221.89999999999998" y2="163.8" stroke="#222" stroke-width="1"/><path d="M225.89999999999998,163.8 L220.09999999999997,161.0 L220.09999999999997,166.60000000000002 Z" fill="#222"/><text x="205.0" y="175.2" font-size="8.8" fill="#3c3c3c" stroke="#3c3c3c" stroke-width="0.22" textLength="26.2" lengthAdjust="spacingAndGlyphs" >UMAP_1</text><g transform="translate(195.89999999999998,159.6) rotate(-90)"><text x="0" y="0" font-size="8.8" fill="#3c3c3c" stroke="#3c3c3c" stroke-width="0.22" textLength="26.2" lengthAdjust="spacingAndGlyphs" >UMAP_2</text></g>
<rect x="374.4" y="46.6" width="20.4" height="63.2" fill="none" stroke="#d87080" stroke-width="0.7"/>
<circle cx="380.1" cy="52.6" r="2.15" fill="#d01a1e"/><text x="385.2" y="54.9" font-size="6.6" fill="#444" stroke="#444" stroke-width="0.22" >1</text>
<circle cx="380.1" cy="63.1" r="2.15" fill="#a01018"/><text x="385.2" y="65.4" font-size="6.6" fill="#444" stroke="#444" stroke-width="0.22" >12</text>
<circle cx="380.1" cy="73.6" r="2.15" fill="#f4a882"/><text x="385.2" y="75.9" font-size="6.6" fill="#444" stroke="#444" stroke-width="0.22" >11</text>
<circle cx="380.1" cy="84.1" r="2.15" fill="#eea08a"/><text x="385.2" y="86.4" font-size="6.6" fill="#444" stroke="#444" stroke-width="0.22" >9</text>
<circle cx="380.1" cy="94.6" r="2.15" fill="#e43a20"/><text x="385.2" y="96.9" font-size="6.6" fill="#444" stroke="#444" stroke-width="0.22" >8</text>
<circle cx="380.1" cy="105.1" r="2.15" fill="#d86464"/><text x="385.2" y="107.4" font-size="6.6" fill="#444" stroke="#444" stroke-width="0.22" >0</text>
<text x="396.1" y="78.6" font-size="6.9" fill="#444" stroke="#444" stroke-width="0.22" textLength="26.81" lengthAdjust="spacingAndGlyphs" >Immature</text>
<rect x="374.4" y="110.8" width="20.4" height="31.1" fill="none" stroke="#a898cc" stroke-width="0.7"/>
<circle cx="380.1" cy="115.1" r="2.15" fill="#a898c8"/><text x="385.2" y="117.4" font-size="6.6" fill="#444" stroke="#444" stroke-width="0.22" >3</text>
<circle cx="380.1" cy="125.85" r="2.15" fill="#1e1a50"/><text x="385.2" y="128.2" font-size="6.6" fill="#444" stroke="#444" stroke-width="0.22" >14</text>
<circle cx="380.1" cy="136.6" r="2.15" fill="#a088c0"/><text x="385.2" y="138.9" font-size="6.6" fill="#444" stroke="#444" stroke-width="0.22" >2</text>
<text x="395.8" y="119.7" font-size="6.9" fill="#444" stroke="#444" stroke-width="0.22" textLength="15.52" lengthAdjust="spacingAndGlyphs" >MEP/</text>
<text x="395.8" y="128.1" font-size="6.9" fill="#444" stroke="#444" stroke-width="0.22" textLength="26.45" lengthAdjust="spacingAndGlyphs" >immature</text>
<text x="395.8" y="136.3" font-size="6.9" fill="#444" stroke="#444" stroke-width="0.22" textLength="24.7" lengthAdjust="spacingAndGlyphs" >erythroid</text>
<rect x="429.2" y="46.6" width="20.3" height="20.2" fill="none" stroke="#8a4a60" stroke-width="0.7"/>
<circle cx="434.8" cy="52.3" r="2.15" fill="#5a1a5a"/><text x="441.0" y="54.6" font-size="6.6" fill="#444" stroke="#444" stroke-width="0.22" >13</text>
<circle cx="434.8" cy="62.6" r="2.15" fill="#6a0a2a"/><text x="441.0" y="64.9" font-size="6.6" fill="#444" stroke="#444" stroke-width="0.22" >6</text>
<text x="451.0" y="55.9" font-size="6.9" fill="#444" stroke="#444" stroke-width="0.22" textLength="29.99" lengthAdjust="spacingAndGlyphs" >EP/mature</text>
<text x="451.0" y="63.4" font-size="6.9" fill="#444" stroke="#444" stroke-width="0.22" textLength="24.7" lengthAdjust="spacingAndGlyphs" >erythroid</text>
<rect x="429.2" y="69.8" width="20.3" height="7.6" fill="none" stroke="#c09070" stroke-width="0.7"/>
<circle cx="434.8" cy="73.6" r="2.15" fill="#6a3a1a"/><text x="441.0" y="75.9" font-size="6.6" fill="#444" stroke="#444" stroke-width="0.22" >16</text>
<text x="451.0" y="75.9" font-size="6.9" fill="#444" stroke="#444" stroke-width="0.22" textLength="13.76" lengthAdjust="spacingAndGlyphs" >MKP</text>
<rect x="429.2" y="80.2" width="20.3" height="7.6" fill="none" stroke="#5a6ab0" stroke-width="0.7"/>
<circle cx="434.8" cy="84.0" r="2.15" fill="#1e2a70"/><text x="441.0" y="86.3" font-size="6.6" fill="#444" stroke="#444" stroke-width="0.22" >5</text>
<text x="451.0" y="86.3" font-size="6.9" fill="#444" stroke="#444" stroke-width="0.22" textLength="30.33" lengthAdjust="spacingAndGlyphs" >CMP/GMP</text>
<rect x="429.2" y="90.9" width="20.3" height="7.6" fill="none" stroke="#b8dcf4" stroke-width="0.7"/>
<circle cx="434.8" cy="94.7" r="2.15" fill="#90c8f0"/><text x="441.0" y="97.0" font-size="6.6" fill="#444" stroke="#444" stroke-width="0.22" >7</text>
<text x="451.0" y="97.0" font-size="6.9" fill="#444" stroke="#444" stroke-width="0.22" textLength="9.17" lengthAdjust="spacingAndGlyphs" >GP</text>
<rect x="429.2" y="101.3" width="20.3" height="7.6" fill="none" stroke="#6a8ac8" stroke-width="0.7"/>
<circle cx="434.8" cy="105.1" r="2.15" fill="#4a70b8"/><text x="441.0" y="107.4" font-size="6.6" fill="#444" stroke="#444" stroke-width="0.22" >10</text>
<text x="451.0" y="107.4" font-size="6.9" fill="#444" stroke="#444" stroke-width="0.22" textLength="14.11" lengthAdjust="spacingAndGlyphs" >MDP</text>
<rect x="429.2" y="111.3" width="20.3" height="7.6" fill="none" stroke="#f4e0b8" stroke-width="0.7"/>
<circle cx="434.8" cy="115.1" r="2.15" fill="#f5c890"/><text x="441.0" y="117.4" font-size="6.6" fill="#444" stroke="#444" stroke-width="0.22" >4</text>
<text x="451.0" y="117.4" font-size="6.9" fill="#444" stroke="#444" stroke-width="0.22" textLength="13.05" lengthAdjust="spacingAndGlyphs" >MLP</text>
<rect x="429.2" y="122.0" width="20.3" height="7.6" fill="none" stroke="#5a9a6a" stroke-width="0.7"/>
<circle cx="434.8" cy="125.8" r="2.15" fill="#1a6a30"/><text x="441.0" y="128.1" font-size="6.6" fill="#444" stroke="#444" stroke-width="0.22" >15</text>
<text x="451.0" y="128.1" font-size="6.9" fill="#444" stroke="#444" stroke-width="0.22" textLength="22.93" lengthAdjust="spacingAndGlyphs" >PreBNK</text>
<rect x="429.2" y="132.8" width="20.3" height="7.6" fill="none" stroke="#a0c88a" stroke-width="0.7"/>
<circle cx="434.8" cy="136.6" r="2.15" fill="#70a840"/><text x="441.0" y="138.9" font-size="6.6" fill="#444" stroke="#444" stroke-width="0.22" >17</text>
<text x="451.0" y="138.9" font-size="6.9" fill="#444" stroke="#444" stroke-width="0.22" textLength="33.16" lengthAdjust="spacingAndGlyphs" >ETP, T cells</text>
<g filter="url(#sc)"><g transform="translate(-178.3,188.75) scale(1,0.95)">
<path d="M211.0,137.0 C210.5,134.5 211.2,130.8 212.0,128.0 C212.8,125.2 214.3,122.7 216.0,120.0 C217.7,117.3 220.7,114.8 222.0,112.0 C223.3,109.2 222.7,105.5 224.0,103.0 C225.3,100.5 228.7,99.5 230.0,97.0 C231.3,94.5 231.7,91.2 232.0,88.0 C232.3,84.8 231.0,81.0 232.0,78.0 C233.0,75.0 235.7,73.0 238.0,70.0 C240.3,67.0 244.0,62.7 246.0,60.0 C248.0,57.3 247.3,55.8 250.0,54.0 C252.7,52.2 258.7,50.2 262.0,49.0 C265.3,47.8 266.7,47.7 270.0,47.0 C273.3,46.3 278.0,45.2 282.0,45.0 C286.0,44.8 290.8,45.0 294.0,46.0 C297.2,47.0 299.8,49.0 301.0,51.0 C302.2,53.0 302.2,56.0 301.0,58.0 C299.8,60.0 296.2,61.7 294.0,63.0 C291.8,64.3 287.7,63.8 288.0,66.0 C288.3,68.2 293.3,73.0 296.0,76.0 C298.7,79.0 301.3,82.7 304.0,84.0 C306.7,85.3 309.0,84.2 312.0,84.0 C315.0,83.8 319.3,82.3 322.0,83.0 C324.7,83.7 327.0,85.5 328.0,88.0 C329.0,90.5 328.3,95.0 328.0,98.0 C327.7,101.0 325.7,103.7 326.0,106.0 C326.3,108.3 327.8,110.5 330.0,112.0 C332.2,113.5 336.7,113.5 339.0,115.0 C341.3,116.5 343.3,118.3 344.0,121.0 C344.7,123.7 344.2,128.3 343.0,131.0 C341.8,133.7 340.5,135.3 337.0,137.0 C333.5,138.7 325.2,139.5 322.0,141.0 C318.8,142.5 319.2,143.2 318.0,146.0 C316.8,148.8 316.7,155.5 315.0,158.0 C313.3,160.5 310.5,161.8 308.0,161.0 C305.5,160.2 303.0,154.8 300.0,153.0 C297.0,151.2 295.0,150.5 290.0,150.0 C285.0,149.5 277.0,150.3 270.0,150.0 C263.0,149.7 254.7,148.7 248.0,148.0 C241.3,147.3 235.5,146.8 230.0,146.0 C224.5,145.2 218.2,144.5 215.0,143.0 C211.8,141.5 211.5,139.5 211.0,137.0Z" fill="#fcf5f5" fill-opacity="0.9"/>
<path d="M251.5,56.5 C253.4,55.0 255.2,54.3 257.3,53.3 C259.4,52.3 261.9,51.1 264.2,50.6 C266.5,50.1 269.6,49.6 271.2,50.0 C272.8,50.4 273.9,51.0 274.0,52.7 C274.1,54.4 271.7,56.8 272.0,60.0 C272.3,63.2 274.1,68.2 276.0,72.0 C277.9,75.8 282.7,80.1 283.2,82.7 C283.7,85.3 280.9,86.0 279.0,87.5 C277.1,89.0 274.8,90.9 272.0,92.0 C269.2,93.1 265.3,93.4 262.0,94.0 C258.7,94.6 255.7,95.0 252.0,95.5 C248.3,96.0 243.1,97.4 240.0,97.0 C236.9,96.6 234.9,95.2 233.5,93.0 C232.1,90.8 231.6,86.8 231.4,84.0 C231.2,81.2 231.4,78.8 232.5,76.5 C233.6,74.2 235.8,72.8 238.0,70.5 C240.2,68.2 243.6,64.8 245.8,62.5 C248.1,60.2 249.6,58.0 251.5,56.5Z" fill="#8eaedc" fill-opacity="1"/>
<path d="M222.0,103.0 C223.2,101.1 227.1,99.8 229.8,98.5 C232.6,97.2 235.1,96.3 238.5,95.5 C241.9,94.7 246.7,94.1 250.0,93.8 C253.3,93.5 255.9,93.3 258.6,93.8 C261.3,94.3 263.7,95.5 266.2,97.0 C268.7,98.5 271.2,100.5 273.7,102.5 C276.2,104.5 279.0,107.0 281.3,109.0 C283.6,111.0 285.4,112.9 287.7,114.5 C290.0,116.1 292.4,118.1 295.3,118.8 C298.2,119.5 301.1,119.3 305.0,118.6 C308.9,117.9 316.1,112.9 318.4,114.8 C320.6,116.7 318.9,126.0 318.5,130.0 C318.1,134.0 319.1,137.6 316.0,139.0 C312.9,140.4 306.5,138.3 300.0,138.5 C293.5,138.7 283.5,139.9 277.0,140.3 C270.5,140.8 265.3,141.1 260.8,141.2 C256.3,141.3 253.0,140.8 250.0,141.0 C247.0,141.2 245.7,141.7 242.7,142.2 C239.7,142.7 235.6,143.6 232.0,143.8 C228.4,144.0 224.2,143.8 221.2,143.3 C218.2,142.8 215.8,142.2 214.2,141.0 C212.6,139.8 211.8,138.1 211.5,136.3 C211.2,134.6 211.3,132.6 212.2,130.5 C213.0,128.4 215.1,126.1 216.6,124.0 C218.1,121.9 220.0,120.3 221.0,118.0 C222.0,115.7 222.6,112.5 222.8,110.0 C223.0,107.5 220.8,104.9 222.0,103.0Z" fill="#ec7a78" fill-opacity="1"/>
<path d="M246.0,140.5 C249.3,139.9 256.3,140.6 262.0,140.5 C267.7,140.4 274.3,139.9 280.0,140.0 C285.7,140.1 292.7,140.0 296.0,141.0 C299.3,142.0 301.0,144.8 300.0,146.0 C299.0,147.2 295.0,147.8 290.0,148.0 C285.0,148.2 276.3,147.8 270.0,147.5 C263.7,147.2 256.7,146.6 252.0,146.0 C247.3,145.4 243.0,144.9 242.0,144.0 C241.0,143.1 242.7,141.1 246.0,140.5Z" fill="#eebcc4" fill-opacity="0.9"/>
<path d="M304.0,139.5 C306.2,138.0 316.0,138.5 318.0,140.0 C320.0,141.5 318.2,147.0 316.0,148.5 C313.8,150.0 307.0,150.5 305.0,149.0 C303.0,147.5 301.8,141.0 304.0,139.5Z" fill="#e6dcee" fill-opacity="0.9"/>
<path d="M318.0,96.0 C319.8,94.3 324.8,94.7 327.0,96.0 C329.2,97.3 330.7,101.3 331.0,104.0 C331.3,106.7 330.8,110.5 329.0,112.0 C327.2,113.5 322.2,114.0 320.0,113.0 C317.8,112.0 316.3,108.8 316.0,106.0 C315.7,103.2 316.2,97.7 318.0,96.0Z" fill="#e6def0" fill-opacity="0.9"/>
<path d="M252.0,124.0 C253.8,122.9 257.5,125.2 260.8,125.2 C264.1,125.2 268.0,124.5 271.6,124.0 C275.2,123.5 279.1,122.7 282.3,122.0 C285.5,121.3 288.1,120.2 291.0,120.0 C293.9,119.8 296.8,120.8 300.0,120.5 C303.2,120.2 306.9,119.4 310.0,118.5 C313.1,117.6 316.9,113.8 318.4,115.2 C319.9,116.6 319.4,123.1 319.0,127.0 C318.6,130.9 317.5,136.4 316.0,138.5 C314.5,140.6 312.7,139.4 310.0,139.3 C307.3,139.2 302.8,138.2 300.0,138.0 C297.2,137.8 296.8,137.9 293.0,138.2 C289.2,138.5 282.4,139.4 277.0,139.8 C271.6,140.2 265.0,140.7 260.8,140.8 C256.6,140.9 253.8,142.1 252.0,140.6 C250.2,139.1 250.0,134.8 250.0,132.0 C250.0,129.2 250.2,125.1 252.0,124.0Z" fill="#b494d4" fill-opacity="1"/>
<path d="M252.0,126.0 C253.8,124.7 258.2,125.6 262.0,125.2 C265.8,124.8 271.2,124.1 275.0,123.6 C278.8,123.1 282.8,120.9 285.0,122.0 C287.2,123.1 287.8,127.2 288.0,130.0 C288.2,132.8 289.0,137.2 286.0,139.0 C283.0,140.8 275.2,140.2 270.0,140.5 C264.8,140.8 258.2,141.8 255.0,140.6 C251.8,139.3 251.5,135.4 251.0,133.0 C250.5,130.6 250.2,127.3 252.0,126.0Z" fill="#b8a2d8" fill-opacity="1"/>
<path d="M238.5,96.5 C240.2,94.9 246.7,94.7 250.0,94.3 C253.3,93.9 255.9,93.8 258.6,94.3 C261.3,94.8 263.7,96.1 266.2,97.5 C268.7,98.9 271.2,100.9 273.7,102.9 C276.2,104.9 279.0,107.4 281.3,109.4 C283.6,111.4 285.4,113.2 287.7,114.8 C290.0,116.4 293.6,118.0 295.3,119.1 C297.0,120.2 298.7,121.2 298.0,121.5 C297.3,121.8 293.6,120.4 291.0,120.6 C288.4,120.8 285.5,121.8 282.3,122.4 C279.1,123.0 275.2,123.7 271.6,124.3 C268.0,124.9 263.6,126.2 260.8,125.8 C258.0,125.4 257.1,123.5 255.0,122.0 C252.9,120.5 250.5,118.5 248.1,117.0 C245.7,115.5 241.9,115.2 240.5,113.0 C239.1,110.8 240.1,106.8 239.8,104.0 C239.5,101.2 236.8,98.1 238.5,96.5Z" fill="#ec5c78" fill-opacity="1"/>
<path d="M250.0,98.5 C252.0,96.8 258.7,96.1 262.0,96.0 C265.3,95.9 269.3,96.7 270.0,98.0 C270.7,99.3 268.0,102.5 266.0,104.0 C264.0,105.5 260.7,106.7 258.0,107.0 C255.3,107.3 251.3,107.4 250.0,106.0 C248.7,104.6 248.0,100.2 250.0,98.5Z" fill="#dde6f4" fill-opacity="1"/>
<path d="M238.0,100.0 C240.0,98.5 247.0,100.0 250.0,101.0 C253.0,102.0 255.7,104.2 256.0,106.0 C256.3,107.8 254.0,110.7 252.0,112.0 C250.0,113.3 246.3,114.3 244.0,114.0 C241.7,113.7 239.0,112.3 238.0,110.0 C237.0,107.7 236.0,101.5 238.0,100.0Z" fill="#f4eac0" fill-opacity="1"/>
<path d="M249.0,117.5 C250.5,115.8 254.5,115.2 258.0,114.5 C261.5,113.8 266.0,113.4 270.0,113.5 C274.0,113.6 278.3,114.1 282.0,115.0 C285.7,115.9 290.7,117.8 292.0,119.0 C293.3,120.2 292.3,121.2 290.0,122.0 C287.7,122.8 282.0,123.3 278.0,124.0 C274.0,124.7 269.7,125.4 266.0,126.0 C262.3,126.6 258.8,127.7 256.0,127.5 C253.2,127.3 250.2,126.7 249.0,125.0 C247.8,123.3 247.5,119.2 249.0,117.5Z" fill="#d03c9c" fill-opacity="1"/>
<path d="M224.4,104.0 C225.5,102.4 227.7,101.0 229.8,99.7 C232.0,98.5 235.5,96.5 237.3,96.5 C239.1,96.5 240.1,97.5 240.6,99.7 C241.1,101.9 240.8,106.9 240.5,109.4 C240.2,111.9 239.9,113.8 238.5,114.8 C237.1,115.8 234.0,115.1 232.0,115.3 C230.0,115.5 228.2,115.6 226.6,115.9 C225.0,116.2 222.8,118.1 222.2,117.0 C221.6,115.9 222.8,111.6 223.2,109.4 C223.6,107.2 223.3,105.6 224.4,104.0Z" fill="#f2aa98" fill-opacity="1"/>
<path d="M250.0,125.0 C251.2,123.3 253.8,123.1 256.0,123.0 C258.2,122.9 261.3,123.3 263.0,124.5 C264.7,125.7 266.0,128.2 266.0,130.0 C266.0,131.8 264.8,134.2 263.0,135.5 C261.2,136.8 257.3,137.9 255.0,137.5 C252.7,137.1 249.8,135.1 249.0,133.0 C248.2,130.9 248.8,126.7 250.0,125.0Z" fill="#ea4838" fill-opacity="1"/>
<path d="M212.0,136.3 C211.6,134.7 211.7,133.0 212.5,131.0 C213.3,129.0 215.5,126.5 216.9,124.5 C218.3,122.5 219.6,120.5 221.2,119.1 C222.8,117.7 224.6,116.5 226.6,115.9 C228.6,115.3 230.8,115.5 233.0,115.3 C235.2,115.1 237.0,114.5 239.5,114.8 C242.0,115.1 245.5,116.0 248.1,117.0 C250.7,118.0 253.6,118.8 255.0,120.5 C256.4,122.2 256.6,124.6 256.5,127.0 C256.4,129.4 255.5,132.9 254.5,135.0 C253.5,137.1 252.3,138.5 250.3,139.6 C248.3,140.7 245.8,141.1 242.7,141.7 C239.6,142.3 235.6,143.1 232.0,143.3 C228.4,143.5 224.1,143.2 221.2,142.8 C218.3,142.4 216.2,141.7 214.7,140.6 C213.2,139.5 212.4,137.9 212.0,136.3Z" fill="#e8191c" fill-opacity="1"/>
</g></g>
<g filter="url(#scs)"><g transform="translate(-178.3,188.75) scale(1,0.95)">
<path d="M316.0,139.5 C315.3,136.8 316.6,130.1 317.0,126.0 C317.4,121.9 317.0,117.0 318.4,114.8 C319.8,112.6 322.9,112.8 325.4,112.6 C327.9,112.4 331.1,113.1 333.5,113.8 C335.9,114.5 338.2,115.4 340.0,116.8 C341.8,118.2 343.8,119.8 344.5,122.0 C345.2,124.2 345.2,127.6 344.5,130.0 C343.8,132.4 342.2,134.8 340.0,136.5 C337.8,138.2 334.2,139.6 331.0,140.5 C327.8,141.4 323.5,142.2 321.0,142.0 C318.5,141.8 316.7,142.2 316.0,139.5Z" fill="#b03060" fill-opacity="1"/>
</g></g>
<g filter="url(#sc)"><g transform="translate(-178.3,188.75) scale(1,0.95)">
<path d="M340.0,116.8 C341.0,117.1 343.8,119.8 344.5,122.0 C345.2,124.2 345.2,127.6 344.5,130.0 C343.8,132.4 342.2,134.8 340.0,136.5 C337.8,138.2 334.2,139.6 331.0,140.5 C327.8,141.4 323.5,142.2 321.0,142.0 C318.5,141.8 315.8,140.2 316.0,139.5 C316.2,138.8 319.7,138.6 322.0,138.0 C324.3,137.4 327.6,137.0 330.0,136.0 C332.4,135.0 334.8,133.8 336.5,132.0 C338.2,130.2 339.7,127.5 340.0,125.5 C340.3,123.5 338.5,121.5 338.5,120.0 C338.5,118.5 339.0,116.5 340.0,116.8Z" fill="#a01848" fill-opacity="1"/>
<path d="M233.1,76.9 C231.4,78.2 231.7,79.6 231.9,81.5 C232.1,83.4 233.2,86.4 234.2,88.5 C235.2,90.6 235.8,93.0 237.7,94.2 C239.6,95.4 243.8,96.1 245.8,95.6 C247.9,95.1 249.1,92.9 250.0,91.0 C250.9,89.1 251.3,86.2 251.0,84.0 C250.7,81.8 249.4,79.2 248.0,77.5 C246.6,75.8 244.8,73.7 242.3,73.6 C239.8,73.5 234.8,75.6 233.1,76.9Z" fill="#92cdec" fill-opacity="1"/>
<path d="M251.5,57.3 C253.4,55.8 255.2,54.8 257.3,53.8 C259.4,52.8 261.9,51.6 264.2,51.0 C266.5,50.4 269.6,50.1 271.2,50.4 C272.8,50.7 273.9,51.2 273.5,52.7 C273.1,54.2 271.1,57.1 268.8,59.6 C266.5,62.1 262.7,65.6 259.6,67.7 C256.5,69.8 253.3,71.0 250.4,72.3 C247.5,73.5 244.6,75.0 242.3,75.2 C240.0,75.5 236.7,74.9 236.5,73.8 C236.3,72.7 239.6,70.6 241.2,68.8 C242.8,67.0 244.1,64.9 245.8,63.0 C247.5,61.1 249.6,58.8 251.5,57.3Z" fill="#5088cc" fill-opacity="1"/>
</g></g>
<g filter="url(#scs)"><g transform="translate(-178.3,188.75) scale(1,0.95)">
<path d="M257.0,66.0 C258.3,64.7 261.1,63.7 263.0,63.0 C264.9,62.3 267.2,61.3 268.5,62.0 C269.8,62.7 270.6,65.0 271.0,67.0 C271.4,69.0 272.0,72.7 271.0,74.0 C270.0,75.3 267.2,74.9 265.0,75.0 C262.8,75.1 259.7,75.2 258.0,74.5 C256.3,73.8 255.2,72.4 255.0,71.0 C254.8,69.6 255.7,67.3 257.0,66.0Z" fill="#dce4f6" fill-opacity="0.9"/>
</g></g>
<g filter="url(#sc)"><g transform="translate(-178.3,188.75) scale(1,0.95)">
<path d="M246.9,75.8 C248.1,74.3 252.3,74.6 255.0,74.6 C257.7,74.6 260.4,75.2 263.1,75.8 C265.8,76.4 268.5,77.3 271.2,78.1 C273.9,78.9 277.3,79.6 279.2,80.4 C281.1,81.2 282.9,81.7 282.7,82.7 C282.5,83.7 280.0,84.9 278.1,86.2 C276.2,87.5 274.3,90.0 271.2,90.8 C268.1,91.6 262.9,91.2 259.6,90.8 C256.3,90.4 253.4,89.7 251.5,88.5 C249.6,87.3 248.9,85.9 248.1,83.8 C247.3,81.7 245.8,77.3 246.9,75.8Z" fill="#2f3c98" fill-opacity="1"/>
<path d="M269.6,48.5 C269.6,47.7 272.9,46.7 275.4,46.2 C277.9,45.7 281.5,45.4 284.6,45.6 C287.7,45.8 291.3,46.6 293.8,47.3 C296.3,48.0 298.4,48.5 299.6,49.6 C300.9,50.8 301.5,52.7 301.3,54.2 C301.1,55.7 299.9,57.4 298.5,58.8 C297.1,60.1 294.6,62.3 292.7,62.3 C290.8,62.3 288.8,60.1 286.9,58.8 C285.0,57.4 283.1,55.5 281.2,54.2 C279.3,52.9 277.3,51.8 275.4,50.8 C273.5,49.8 269.6,49.3 269.6,48.5Z" fill="#f8cf70" fill-opacity="1"/>
</g></g>
<g transform="translate(-178.3,188.75) scale(1,0.95)">
<path d="M322.0,114.6 C323.2,114.0 327.8,113.6 330.0,113.8 C332.2,114.0 335.2,114.8 335.0,115.5 C334.8,116.2 331.0,117.7 329.0,118.0 C327.0,118.3 324.2,118.2 323.0,117.6 C321.8,117.0 320.8,115.2 322.0,114.6Z" fill="#a82050" fill-opacity="1"/>
<path d="M315.4,112.0 C315.7,111.1 316.2,109.6 317.5,110.0 C318.8,110.4 322.8,113.2 323.0,114.2 C323.2,115.2 320.2,116.1 319.0,116.3 C317.8,116.5 316.2,116.3 315.6,115.6 C315.0,114.9 315.1,112.9 315.4,112.0Z" fill="#3a4aa0" fill-opacity="1"/>
<path d="M302.0,149.3 C303.0,148.6 306.1,149.9 308.0,149.8 C309.9,149.8 312.8,148.1 313.7,149.0 C314.6,149.9 314.0,153.2 313.5,155.0 C313.0,156.8 312.1,158.9 310.5,159.6 C308.9,160.3 305.4,160.1 304.0,159.2 C302.6,158.3 302.3,155.7 302.0,154.0 C301.7,152.3 301.0,150.0 302.0,149.3Z" fill="#7a2a8e" fill-opacity="1"/>
<path d="M273.5,36.5 C274.7,36.0 280.2,35.8 281.4,36.5 C282.6,37.2 281.0,39.1 280.5,40.5 C280.0,41.9 279.2,44.3 278.6,44.6 C278.0,44.9 277.3,43.4 276.6,42.5 C275.9,41.6 274.8,40.5 274.3,39.5 C273.8,38.5 272.3,37.0 273.5,36.5Z" fill="#1c7d3e" fill-opacity="1"/>
<path d="M268.3,30.6 C268.4,29.7 270.2,29.7 271.0,30.0 C271.8,30.3 272.5,31.5 272.8,32.5 C273.1,33.5 273.0,35.5 272.6,36.0 C272.2,36.5 271.1,36.3 270.4,35.4 C269.7,34.5 268.2,31.5 268.3,30.6Z" fill="#1c6a38" fill-opacity="1"/>
<path d="M305.3,95.3 C304.3,93.8 309.0,89.9 311.5,88.1 C314.0,86.3 318.1,85.0 320.2,84.7 C322.3,84.4 323.0,84.2 324.0,86.2 C325.0,88.2 327.1,94.9 326.0,96.7 C324.9,98.5 320.8,97.4 317.3,97.2 C313.9,97.0 306.3,96.8 305.3,95.3Z" fill="#a88cd0" fill-opacity="1"/>
<path d="M249.8,49.2 C250.4,49.6 252.2,51.0 253.5,51.8 C254.8,52.6 256.7,53.5 257.3,53.8" fill="none" stroke="#2a4aa0" stroke-width="1.6" stroke-linecap="round"/>
<path d="M310.6,72.2 C311.8,73.2 315.6,76.5 318.0,78.5 C320.4,80.5 323.8,83.2 325.0,84.2" fill="none" stroke="#2a2a6a" stroke-width="1.1" stroke-linecap="round"/>
<path d="M285.3,64.2 C285.4,64.9 285.7,67.1 285.9,68.5 C286.1,69.9 286.5,71.8 286.6,72.5" fill="none" stroke="#e04a30" stroke-width="1.6" stroke-linecap="round"/>
<path d="M295.0,150.2 C295.8,150.6 298.4,151.7 300.0,152.5 C301.6,153.3 303.6,154.5 304.3,154.9" fill="none" stroke="#5a1a6a" stroke-width="1.1" stroke-linecap="round"/>
<path d="M316.5,66.5 C316.8,66.3 317.8,65.6 318.5,65.2 C319.2,64.8 320.6,64.5 321.0,64.3" fill="none" stroke="#4a7ac8" stroke-width="1.2" stroke-linecap="round"/>
<path d="M276.5,32.0 C276.8,31.4 277.5,29.5 278.2,28.2 C278.9,26.9 279.7,24.9 280.6,24.4 C281.5,23.9 282.6,24.8 283.6,25.4 C284.7,26.0 286.3,27.4 286.9,27.8" fill="none" stroke="#1a4a30" stroke-width="0.9" stroke-linecap="round"/>
</g>
<rect x="74.9" y="212.7" width="8.9" height="5.4" fill="#8dc63f"/><text x="79.3" y="217.4" font-size="5.6" fill="#e8f5d8" stroke="#e8f5d8" stroke-width="0.22" text-anchor="middle" >17</text>
<rect x="94.2" y="218.9" width="8.7" height="5.5" fill="#1a8a45"/><text x="98.6" y="223.7" font-size="5.6" fill="#d8f0e0" stroke="#d8f0e0" stroke-width="0.22" text-anchor="middle" >15</text>
<text x="112.1" y="241.5" font-size="5.8" fill="#5a4a20" stroke="#5a4a20" stroke-width="0.22" text-anchor="middle" >4</text>
<rect x="72.9" y="244.2" width="8.6" height="5.4" fill="#3a6eb6"/><text x="77.2" y="248.9" font-size="5.6" fill="#d8e8f8" stroke="#d8e8f8" stroke-width="0.22" text-anchor="middle" >10</text>
<text x="61.5" y="271.6" font-size="5.8" fill="#2a4a8a" stroke="#2a4a8a" stroke-width="0.22" text-anchor="middle" >7</text>
<text x="86.7" y="268.7" font-size="5.8" fill="#c8cce8" stroke="#c8cce8" stroke-width="0.22" text-anchor="middle" >5</text>
<rect x="151.8" y="260.3" width="8.7" height="7.3" fill="#f5b87a"/><text x="156.2" y="266.0" font-size="5.6" fill="#fde8d0" stroke="#fde8d0" stroke-width="0.22" text-anchor="middle" >11</text>
<rect x="146.9" y="272.4" width="8.6" height="7.4" fill="#2a1f5e"/><text x="151.2" y="278.1" font-size="5.6" fill="#ffffff" stroke="#ffffff" stroke-width="0.22" text-anchor="middle" >14</text>
<line x1="157.1" y1="273.1" x2="164.0" y2="273.1" stroke="#d01020" stroke-width="1.1"/>
<rect x="164.0" y="270.4" width="9.4" height="5.7" fill="#d01020"/><text x="168.7" y="275.3" font-size="5.6" fill="#ffffff" stroke="#ffffff" stroke-width="0.22" text-anchor="middle" >12</text>
<rect x="126.0" y="294.9" width="9.4" height="5.5" fill="#9a5a10"/><text x="130.7" y="299.7" font-size="5.6" fill="#fff0d0" stroke="#fff0d0" stroke-width="0.22" text-anchor="middle" >16</text>
<rect x="126.0" y="332.6" width="8.5" height="6.8" fill="#6a2a8a"/><text x="130.2" y="338.0" font-size="5.6" fill="#ffffff" stroke="#ffffff" stroke-width="0.22" text-anchor="middle" >13</text>
<text x="51.5" y="315.3" font-size="5.8" fill="#fbc8c0" stroke="#fbc8c0" stroke-width="0.22" text-anchor="middle" >1</text>
<text x="78.7" y="313.8" font-size="5.8" fill="#e07030" stroke="#e07030" stroke-width="0.22" text-anchor="middle" >8</text>
<text x="96.5" y="314.2" font-size="5.8" fill="#e0d4f0" stroke="#e0d4f0" stroke-width="0.22" text-anchor="middle" >3</text>
<text x="120.2" y="316.3" font-size="5.8" fill="#e4d8f4" stroke="#e4d8f4" stroke-width="0.22" text-anchor="middle" >2</text>
<text x="150.0" y="316.3" font-size="5.8" fill="#f0d0dc" stroke="#f0d0dc" stroke-width="0.22" text-anchor="middle" >6</text>
<text x="76.6" y="288.4" font-size="5.8" fill="#3a4a7a" stroke="#3a4a7a" stroke-width="0.22" text-anchor="middle" >0.3</text>
<text x="70.4" y="294.6" font-size="5.8" fill="#5a5020" stroke="#5a5020" stroke-width="0.22" text-anchor="middle" >0.2</text>
<text x="92.4" y="299.0" font-size="5.8" fill="#fbd0d8" stroke="#fbd0d8" stroke-width="0.22" text-anchor="middle" >0.0</text>
<text x="92.0" y="304.6" font-size="5.8" fill="#f8d0f0" stroke="#f8d0f0" stroke-width="0.22" text-anchor="middle" >0.1</text>
<line x1="19.3" y1="323.5" x2="19.3" y2="346.7" stroke="#222" stroke-width="1"/><path d="M19.3,319.5 L22.1,325.3 L16.5,325.3 Z" fill="#222"/><line x1="11.1" y1="340.5" x2="40.2" y2="340.5" stroke="#222" stroke-width="1"/><path d="M44.2,340.5 L38.400000000000006,337.7 L38.400000000000006,343.3 Z" fill="#222"/><text x="23.3" y="351.9" font-size="8.8" fill="#3c3c3c" stroke="#3c3c3c" stroke-width="0.22" textLength="26.2" lengthAdjust="spacingAndGlyphs" >UMAP_1</text><g transform="translate(14.2,336.29999999999995) rotate(-90)"><text x="0" y="0" font-size="8.8" fill="#3c3c3c" stroke="#3c3c3c" stroke-width="0.22" textLength="26.2" lengthAdjust="spacingAndGlyphs" >UMAP_2</text></g>
<rect x="177.8" y="214.9" width="20.8" height="8.0" fill="none" stroke="#d86068" stroke-width="0.7"/>
<circle cx="182.5" cy="218.9" r="2.15" fill="#c8141c"/>
<text x="187.6" y="221.3" font-size="6.8" fill="#444" stroke="#444" stroke-width="0.22" >1</text>
<text x="200.8" y="221.3" font-size="6.9" fill="#444" stroke="#444" stroke-width="0.22" textLength="22.1" lengthAdjust="spacingAndGlyphs" >LT-HSC</text>
<rect x="177.8" y="225.3" width="20.8" height="8.0" fill="none" stroke="#b04048" stroke-width="0.7"/>
<circle cx="182.5" cy="229.3" r="2.15" fill="#a00f1a"/>
<text x="187.6" y="231.8" font-size="6.8" fill="#444" stroke="#444" stroke-width="0.22" >12</text>
<text x="200.8" y="231.8" font-size="6.9" fill="#444" stroke="#444" stroke-width="0.22" textLength="36.33" lengthAdjust="spacingAndGlyphs" >Cycling-HSC</text>
<rect x="177.8" y="235.8" width="20.8" height="8.0" fill="none" stroke="#f4d0c4" stroke-width="0.7"/>
<circle cx="182.5" cy="239.8" r="2.15" fill="#f4b09a"/>
<text x="187.6" y="242.2" font-size="6.8" fill="#444" stroke="#444" stroke-width="0.22" >11</text>
<text x="200.8" y="242.2" font-size="6.9" fill="#444" stroke="#444" stroke-width="0.22" textLength="36.68" lengthAdjust="spacingAndGlyphs" >Cycling-MPP</text>
<rect x="177.8" y="246.2" width="20.8" height="8.0" fill="none" stroke="#f0d0c8" stroke-width="0.7"/>
<circle cx="182.5" cy="250.2" r="2.15" fill="#e8a090"/>
<text x="187.6" y="252.7" font-size="6.8" fill="#444" stroke="#444" stroke-width="0.22" >9</text>
<text x="200.8" y="252.7" font-size="6.9" fill="#444" stroke="#444" stroke-width="0.22" textLength="13.76" lengthAdjust="spacingAndGlyphs" >MPP</text>
<rect x="177.8" y="256.7" width="20.8" height="8.0" fill="none" stroke="#e89080" stroke-width="0.7"/>
<circle cx="182.5" cy="260.7" r="2.15" fill="#e04020"/>
<text x="187.6" y="263.1" font-size="6.8" fill="#444" stroke="#444" stroke-width="0.22" >8</text>
<text x="200.8" y="263.1" font-size="6.9" fill="#444" stroke="#444" stroke-width="0.22" textLength="25.39" lengthAdjust="spacingAndGlyphs" >Ery-MPP</text>
<rect x="177.8" y="267.1" width="20.8" height="8.0" fill="none" stroke="#e8a0a8" stroke-width="0.7"/>
<circle cx="182.5" cy="271.1" r="2.15" fill="#e06070"/>
<text x="187.6" y="273.5" font-size="6.8" fill="#444" stroke="#444" stroke-width="0.22" >0.0</text>
<text x="200.8" y="273.5" font-size="6.9" fill="#444" stroke="#444" stroke-width="0.22" textLength="29.63" lengthAdjust="spacingAndGlyphs" >MPP/CMP</text>
<rect x="177.8" y="277.6" width="20.8" height="8.0" fill="none" stroke="#d890b8" stroke-width="0.7"/>
<circle cx="182.5" cy="281.6" r="2.15" fill="#c0308a"/>
<text x="187.6" y="284.0" font-size="6.8" fill="#444" stroke="#444" stroke-width="0.22" >0.1</text>
<text x="200.8" y="284.0" font-size="6.9" fill="#444" stroke="#444" stroke-width="0.22" textLength="25.74" lengthAdjust="spacingAndGlyphs" >Ery-CMP</text>
<rect x="177.8" y="288.1" width="20.8" height="8.0" fill="none" stroke="#f8f4e0" stroke-width="0.7"/>
<circle cx="182.5" cy="292.1" r="2.15" fill="#f0e8c0"/>
<text x="187.6" y="294.4" font-size="6.8" fill="#444" stroke="#444" stroke-width="0.22" >0.2</text>
<text x="200.8" y="294.4" font-size="6.9" fill="#444" stroke="#444" stroke-width="0.22" textLength="55.38" lengthAdjust="spacingAndGlyphs" >Myelo/lympho-CMP</text>
<rect x="177.8" y="298.5" width="20.8" height="8.0" fill="none" stroke="#eef2f8" stroke-width="0.7"/>
<circle cx="182.5" cy="302.5" r="2.15" fill="#d8e0f0"/>
<text x="187.6" y="304.9" font-size="6.8" fill="#444" stroke="#444" stroke-width="0.22" >0.3</text>
<text x="200.8" y="304.9" font-size="6.9" fill="#444" stroke="#444" stroke-width="0.22" textLength="33.15" lengthAdjust="spacingAndGlyphs" >Myelo-CMP</text>
<rect x="247.8" y="215.0" width="19.9" height="29.5" fill="none" stroke="#b8a8d8" stroke-width="0.7"/>
<circle cx="252.5" cy="219.2" r="2.15" fill="#a898c8"/><text x="257.3" y="221.6" font-size="6.8" fill="#444" stroke="#444" stroke-width="0.22" >3</text>
<circle cx="252.5" cy="229.6" r="2.15" fill="#1e1a50"/><text x="257.3" y="232.0" font-size="6.8" fill="#444" stroke="#444" stroke-width="0.22" >14</text>
<circle cx="252.5" cy="240.3" r="2.15" fill="#a088c0"/><text x="257.3" y="242.7" font-size="6.8" fill="#444" stroke="#444" stroke-width="0.22" >2</text>
<text x="270.3" y="223.7" font-size="6.9" fill="#444" stroke="#444" stroke-width="0.22" textLength="15.52" lengthAdjust="spacingAndGlyphs" >MEP/</text>
<text x="270.3" y="231.9" font-size="6.9" fill="#444" stroke="#444" stroke-width="0.22" textLength="26.45" lengthAdjust="spacingAndGlyphs" >immature</text>
<text x="270.3" y="239.4" font-size="6.9" fill="#444" stroke="#444" stroke-width="0.22" textLength="24.7" lengthAdjust="spacingAndGlyphs" >erythroid</text>
<rect x="247.8" y="248.3" width="19.9" height="19.0" fill="none" stroke="#8a4060" stroke-width="0.7"/>
<circle cx="252.5" cy="252.2" r="2.15" fill="#5a1a5a"/><text x="257.3" y="254.6" font-size="6.8" fill="#444" stroke="#444" stroke-width="0.22" >13</text>
<circle cx="252.5" cy="262.5" r="2.15" fill="#6a0a2a"/><text x="257.3" y="264.9" font-size="6.8" fill="#444" stroke="#444" stroke-width="0.22" >6</text>
<text x="270.3" y="256.1" font-size="6.9" fill="#444" stroke="#444" stroke-width="0.22" textLength="29.99" lengthAdjust="spacingAndGlyphs" >EP/mature</text>
<text x="270.3" y="263.9" font-size="6.9" fill="#444" stroke="#444" stroke-width="0.22" textLength="24.7" lengthAdjust="spacingAndGlyphs" >erythroid</text>
<rect x="247.8" y="269.4" width="19.9" height="8.3" fill="none" stroke="#b08060" stroke-width="0.7"/>
<circle cx="252.5" cy="273.5" r="2.15" fill="#6a3a1a"/><text x="257.3" y="275.9" font-size="6.8" fill="#444" stroke="#444" stroke-width="0.22" >16</text>
<text x="270.3" y="275.9" font-size="6.9" fill="#444" stroke="#444" stroke-width="0.22" textLength="13.76" lengthAdjust="spacingAndGlyphs" >MKP</text>
<rect x="301.6" y="215.2" width="20.2" height="8.0" fill="none" stroke="#5a6ab0" stroke-width="0.7"/>
<circle cx="306.4" cy="219.2" r="2.15" fill="#1e2a70"/><text x="311.4" y="221.6" font-size="6.8" fill="#444" stroke="#444" stroke-width="0.22" >5</text>
<text x="323.8" y="221.6" font-size="6.9" fill="#444" stroke="#444" stroke-width="0.22" textLength="30.33" lengthAdjust="spacingAndGlyphs" >CMP/GMP</text>
<rect x="301.6" y="226.0" width="20.2" height="8.0" fill="none" stroke="#b8dcf4" stroke-width="0.7"/>
<circle cx="306.4" cy="230.0" r="2.15" fill="#90c8f0"/><text x="311.4" y="232.4" font-size="6.8" fill="#444" stroke="#444" stroke-width="0.22" >7</text>
<text x="323.8" y="232.4" font-size="6.9" fill="#444" stroke="#444" stroke-width="0.22" textLength="9.17" lengthAdjust="spacingAndGlyphs" >GP</text>
<rect x="301.6" y="236.7" width="20.2" height="8.0" fill="none" stroke="#6a8ac8" stroke-width="0.7"/>
<circle cx="306.4" cy="240.7" r="2.15" fill="#4a70b8"/><text x="311.4" y="243.1" font-size="6.8" fill="#444" stroke="#444" stroke-width="0.22" >10</text>
<text x="323.8" y="243.1" font-size="6.9" fill="#444" stroke="#444" stroke-width="0.22" textLength="14.11" lengthAdjust="spacingAndGlyphs" >MDP</text>
<rect x="301.6" y="247.5" width="20.2" height="8.0" fill="none" stroke="#f4e0b8" stroke-width="0.7"/>
<circle cx="306.4" cy="251.5" r="2.15" fill="#f5c890"/><text x="311.4" y="253.9" font-size="6.8" fill="#444" stroke="#444" stroke-width="0.22" >4</text>
<text x="323.8" y="253.9" font-size="6.9" fill="#444" stroke="#444" stroke-width="0.22" textLength="13.05" lengthAdjust="spacingAndGlyphs" >MLP</text>
<rect x="301.6" y="258.3" width="20.2" height="8.0" fill="none" stroke="#5a9a6a" stroke-width="0.7"/>
<circle cx="306.4" cy="262.3" r="2.15" fill="#1a6a30"/><text x="311.4" y="264.7" font-size="6.8" fill="#444" stroke="#444" stroke-width="0.22" >15</text>
<text x="323.8" y="264.7" font-size="6.9" fill="#444" stroke="#444" stroke-width="0.22" textLength="22.93" lengthAdjust="spacingAndGlyphs" >PreBNK</text>
<rect x="301.6" y="269.0" width="20.2" height="8.0" fill="none" stroke="#a0c88a" stroke-width="0.7"/>
<circle cx="306.4" cy="273.0" r="2.15" fill="#70a840"/><text x="311.4" y="275.4" font-size="6.8" fill="#444" stroke="#444" stroke-width="0.22" >17</text>
<text x="323.8" y="275.4" font-size="6.9" fill="#444" stroke="#444" stroke-width="0.22" textLength="33.16" lengthAdjust="spacingAndGlyphs" >ETP, T cells</text>
<line x1="409.4" y1="210.4" x2="409.4" y2="312.9" stroke="#222" stroke-width="0.9"/>
<line x1="409.0" y1="312.4" x2="487" y2="312.4" stroke="#222" stroke-width="0.9"/>
<line x1="407.0" y1="312.40" x2="409.4" y2="312.40" stroke="#222" stroke-width="0.8"/>
<text x="404.2" y="314.50" font-size="6.6" fill="#454545" stroke="#454545" stroke-width="0.22" text-anchor="end" >0</text>
<line x1="407.0" y1="302.25" x2="409.4" y2="302.25" stroke="#222" stroke-width="0.8"/>
<text x="404.2" y="304.35" font-size="6.6" fill="#454545" stroke="#454545" stroke-width="0.22" text-anchor="end" >10</text>
<line x1="407.0" y1="292.10" x2="409.4" y2="292.10" stroke="#222" stroke-width="0.8"/>
<text x="404.2" y="294.20" font-size="6.6" fill="#454545" stroke="#454545" stroke-width="0.22" text-anchor="end" >20</text>
<line x1="407.0" y1="281.95" x2="409.4" y2="281.95" stroke="#222" stroke-width="0.8"/>
<text x="404.2" y="284.05" font-size="6.6" fill="#454545" stroke="#454545" stroke-width="0.22" text-anchor="end" >30</text>
<line x1="407.0" y1="271.80" x2="409.4" y2="271.80" stroke="#222" stroke-width="0.8"/>
<text x="404.2" y="273.90" font-size="6.6" fill="#454545" stroke="#454545" stroke-width="0.22" text-anchor="end" >40</text>
<line x1="407.0" y1="261.65" x2="409.4" y2="261.65" stroke="#222" stroke-width="0.8"/>
<text x="404.2" y="263.75" font-size="6.6" fill="#454545" stroke="#454545" stroke-width="0.22" text-anchor="end" >50</text>
<line x1="407.0" y1="251.50" x2="409.4" y2="251.50" stroke="#222" stroke-width="0.8"/>
<text x="404.2" y="253.60" font-size="6.6" fill="#454545" stroke="#454545" stroke-width="0.22" text-anchor="end" >60</text>
<line x1="407.0" y1="241.35" x2="409.4" y2="241.35" stroke="#222" stroke-width="0.8"/>
<text x="404.2" y="243.45" font-size="6.6" fill="#454545" stroke="#454545" stroke-width="0.22" text-anchor="end" >70</text>
<line x1="407.0" y1="231.20" x2="409.4" y2="231.20" stroke="#222" stroke-width="0.8"/>
<text x="404.2" y="233.30" font-size="6.6" fill="#454545" stroke="#454545" stroke-width="0.22" text-anchor="end" >80</text>
<line x1="407.0" y1="221.05" x2="409.4" y2="221.05" stroke="#222" stroke-width="0.8"/>
<text x="404.2" y="223.15" font-size="6.6" fill="#454545" stroke="#454545" stroke-width="0.22" text-anchor="end" >90</text>
<line x1="407.0" y1="210.90" x2="409.4" y2="210.90" stroke="#222" stroke-width="0.8"/>
<text x="404.2" y="213.00" font-size="6.6" fill="#454545" stroke="#454545" stroke-width="0.22" text-anchor="end" >100</text>
<line x1="432.7" y1="312.4" x2="432.7" y2="315.2" stroke="#222" stroke-width="0.8"/>
<line x1="470.7" y1="312.4" x2="470.7" y2="315.2" stroke="#222" stroke-width="0.8"/>
<text x="432.7" y="324.2" font-size="6.5" fill="#454545" stroke="#454545" stroke-width="0.22" text-anchor="middle" >BM</text>
<text x="470.7" y="324.2" font-size="6.5" fill="#454545" stroke="#454545" stroke-width="0.22" text-anchor="middle" >PB</text>
<g transform="translate(377.2,260.5) rotate(-90)"><text x="0" y="0" font-size="8.7" fill="#454545" stroke="#454545" stroke-width="0.22" text-anchor="middle" textLength="92" lengthAdjust="spacingAndGlyphs" >Cell distribution across clusters</text></g>
<g transform="translate(387.6,260.5) rotate(-90)"><text x="0" y="0" font-size="8.7" fill="#454545" stroke="#454545" stroke-width="0.22" text-anchor="middle" textLength="63" lengthAdjust="spacingAndGlyphs" >(relative frequencies)</text></g>
<rect x="418.10" y="211.10" width="29.10" height="2.50" fill="#1b7a3e"/>
<rect x="418.10" y="213.60" width="29.10" height="1.40" fill="#c8b870"/>
<rect x="418.10" y="215.00" width="29.10" height="5.30" fill="#4a80c4"/>
<rect x="418.10" y="220.30" width="29.10" height="0.90" fill="#2a2a50"/>
<rect x="418.10" y="221.20" width="29.10" height="6.80" fill="#92cdea"/>
<rect x="418.10" y="228.00" width="29.10" height="12.20" fill="#2f4ba0"/>
<rect x="418.10" y="240.20" width="29.10" height="0.80" fill="#5a2010"/>
<rect x="418.10" y="241.00" width="29.10" height="7.60" fill="#a3154c"/>
<rect x="418.10" y="248.60" width="29.10" height="1.20" fill="#4a0f3a"/>
<rect x="418.10" y="249.80" width="29.10" height="3.40" fill="#c27ab8"/>
<rect x="418.10" y="253.20" width="29.10" height="1.40" fill="#2a1060"/>
<rect x="418.10" y="254.60" width="29.10" height="3.60" fill="#a88cc8"/>
<rect x="418.10" y="258.20" width="29.10" height="0.80" fill="#6a6a8a"/>
<rect x="418.10" y="259.00" width="29.10" height="2.30" fill="#dde8f8"/>
<rect x="418.10" y="261.30" width="29.10" height="1.00" fill="#a0a080"/>
<rect x="418.10" y="262.30" width="29.10" height="1.50" fill="#f8e090"/>
<rect x="418.10" y="263.80" width="29.10" height="2.50" fill="#5a0a18"/>
<rect x="418.10" y="266.30" width="29.10" height="2.40" fill="#d84020"/>
<rect x="418.10" y="268.70" width="29.10" height="0.80" fill="#8a3020"/>
<rect x="418.10" y="269.50" width="29.10" height="5.40" fill="#f8a890"/>
<rect x="418.10" y="274.90" width="29.10" height="0.80" fill="#a02020"/>
<rect x="418.10" y="275.70" width="29.10" height="3.20" fill="#f8b890"/>
<rect x="418.10" y="278.90" width="29.10" height="1.10" fill="#8a2020"/>
<rect x="418.10" y="280.00" width="29.10" height="4.30" fill="#d01818"/>
<rect x="418.10" y="284.30" width="29.10" height="28.10" fill="#e8200f"/>
<line x1="418.10" x2="447.20" y1="213.60" y2="213.60" stroke="#3a2a2a" stroke-width="0.6" stroke-opacity="0.75"/>
<line x1="418.10" x2="447.20" y1="215.00" y2="215.00" stroke="#3a2a2a" stroke-width="0.6" stroke-opacity="0.75"/>
<line x1="418.10" x2="447.20" y1="220.30" y2="220.30" stroke="#3a2a2a" stroke-width="0.6" stroke-opacity="0.75"/>
<line x1="418.10" x2="447.20" y1="221.20" y2="221.20" stroke="#3a2a2a" stroke-width="0.6" stroke-opacity="0.75"/>
<line x1="418.10" x2="447.20" y1="228.00" y2="228.00" stroke="#3a2a2a" stroke-width="0.6" stroke-opacity="0.75"/>
<line x1="418.10" x2="447.20" y1="240.20" y2="240.20" stroke="#3a2a2a" stroke-width="0.6" stroke-opacity="0.75"/>
<line x1="418.10" x2="447.20" y1="241.00" y2="241.00" stroke="#3a2a2a" stroke-width="0.6" stroke-opacity="0.75"/>
<line x1="418.10" x2="447.20" y1="248.60" y2="248.60" stroke="#3a2a2a" stroke-width="0.6" stroke-opacity="0.75"/>
<line x1="418.10" x2="447.20" y1="249.80" y2="249.80" stroke="#3a2a2a" stroke-width="0.6" stroke-opacity="0.75"/>
<line x1="418.10" x2="447.20" y1="253.20" y2="253.20" stroke="#3a2a2a" stroke-width="0.6" stroke-opacity="0.75"/>
<line x1="418.10" x2="447.20" y1="254.60" y2="254.60" stroke="#3a2a2a" stroke-width="0.6" stroke-opacity="0.75"/>
<line x1="418.10" x2="447.20" y1="258.20" y2="258.20" stroke="#3a2a2a" stroke-width="0.6" stroke-opacity="0.75"/>
<line x1="418.10" x2="447.20" y1="259.00" y2="259.00" stroke="#3a2a2a" stroke-width="0.6" stroke-opacity="0.75"/>
<line x1="418.10" x2="447.20" y1="261.30" y2="261.30" stroke="#3a2a2a" stroke-width="0.6" stroke-opacity="0.75"/>
<line x1="418.10" x2="447.20" y1="262.30" y2="262.30" stroke="#3a2a2a" stroke-width="0.6" stroke-opacity="0.75"/>
<line x1="418.10" x2="447.20" y1="263.80" y2="263.80" stroke="#3a2a2a" stroke-width="0.6" stroke-opacity="0.75"/>
<line x1="418.10" x2="447.20" y1="266.30" y2="266.30" stroke="#3a2a2a" stroke-width="0.6" stroke-opacity="0.75"/>
<line x1="418.10" x2="447.20" y1="268.70" y2="268.70" stroke="#3a2a2a" stroke-width="0.6" stroke-opacity="0.75"/>
<line x1="418.10" x2="447.20" y1="269.50" y2="269.50" stroke="#3a2a2a" stroke-width="0.6" stroke-opacity="0.75"/>
<line x1="418.10" x2="447.20" y1="274.90" y2="274.90" stroke="#3a2a2a" stroke-width="0.6" stroke-opacity="0.75"/>
<line x1="418.10" x2="447.20" y1="275.70" y2="275.70" stroke="#3a2a2a" stroke-width="0.6" stroke-opacity="0.75"/>
<line x1="418.10" x2="447.20" y1="278.90" y2="278.90" stroke="#3a2a2a" stroke-width="0.6" stroke-opacity="0.75"/>
<line x1="418.10" x2="447.20" y1="280.00" y2="280.00" stroke="#3a2a2a" stroke-width="0.6" stroke-opacity="0.75"/>
<line x1="418.10" x2="447.20" y1="284.30" y2="284.30" stroke="#3a2a2a" stroke-width="0.6" stroke-opacity="0.75"/>
<rect x="418.10" y="211.10" width="29.10" height="101.30" fill="none" stroke="#3a2a2a" stroke-width="0.6" stroke-opacity="0.8"/>
<rect x="456.50" y="211.20" width="28.50" height="1.60" fill="#3a3030"/>
<rect x="456.50" y="212.80" width="28.50" height="9.40" fill="#f8d07a"/>
<rect x="456.50" y="222.20" width="28.50" height="3.00" fill="#404048"/>
<rect x="456.50" y="225.20" width="28.50" height="4.70" fill="#5a1040"/>
<rect x="456.50" y="229.90" width="28.50" height="19.10" fill="#a468b0"/>
<rect x="456.50" y="249.00" width="28.50" height="2.30" fill="#3a1060"/>
<rect x="456.50" y="251.30" width="28.50" height="16.40" fill="#a58ac8"/>
<rect x="456.50" y="267.70" width="28.50" height="1.10" fill="#5a5a7a"/>
<rect x="456.50" y="268.80" width="28.50" height="4.00" fill="#dde8f8"/>
<rect x="456.50" y="272.80" width="28.50" height="1.40" fill="#8a8a70"/>
<rect x="456.50" y="274.20" width="28.50" height="4.00" fill="#f8e090"/>
<rect x="456.50" y="278.20" width="28.50" height="1.10" fill="#5a2040"/>
<rect x="456.50" y="279.30" width="28.50" height="8.20" fill="#d0208a"/>
<rect x="456.50" y="287.50" width="28.50" height="0.70" fill="#7a2030"/>
<rect x="456.50" y="288.20" width="28.50" height="8.60" fill="#f06060"/>
<rect x="456.50" y="296.80" width="28.50" height="0.70" fill="#7a2020"/>
<rect x="456.50" y="297.50" width="28.50" height="3.30" fill="#e04020"/>
<rect x="456.50" y="300.80" width="28.50" height="0.70" fill="#8a1a10"/>
<rect x="456.50" y="301.50" width="28.50" height="10.90" fill="#e01b1b"/>
<line x1="456.50" x2="485.00" y1="212.80" y2="212.80" stroke="#3a2a2a" stroke-width="0.6" stroke-opacity="0.75"/>
<line x1="456.50" x2="485.00" y1="222.20" y2="222.20" stroke="#3a2a2a" stroke-width="0.6" stroke-opacity="0.75"/>
<line x1="456.50" x2="485.00" y1="225.20" y2="225.20" stroke="#3a2a2a" stroke-width="0.6" stroke-opacity="0.75"/>
<line x1="456.50" x2="485.00" y1="229.90" y2="229.90" stroke="#3a2a2a" stroke-width="0.6" stroke-opacity="0.75"/>
<line x1="456.50" x2="485.00" y1="249.00" y2="249.00" stroke="#3a2a2a" stroke-width="0.6" stroke-opacity="0.75"/>
<line x1="456.50" x2="485.00" y1="251.30" y2="251.30" stroke="#3a2a2a" stroke-width="0.6" stroke-opacity="0.75"/>
<line x1="456.50" x2="485.00" y1="267.70" y2="267.70" stroke="#3a2a2a" stroke-width="0.6" stroke-opacity="0.75"/>
<line x1="456.50" x2="485.00" y1="268.80" y2="268.80" stroke="#3a2a2a" stroke-width="0.6" stroke-opacity="0.75"/>
<line x1="456.50" x2="485.00" y1="272.80" y2="272.80" stroke="#3a2a2a" stroke-width="0.6" stroke-opacity="0.75"/>
<line x1="456.50" x2="485.00" y1="274.20" y2="274.20" stroke="#3a2a2a" stroke-width="0.6" stroke-opacity="0.75"/>
<line x1="456.50" x2="485.00" y1="278.20" y2="278.20" stroke="#3a2a2a" stroke-width="0.6" stroke-opacity="0.75"/>
<line x1="456.50" x2="485.00" y1="279.30" y2="279.30" stroke="#3a2a2a" stroke-width="0.6" stroke-opacity="0.75"/>
<line x1="456.50" x2="485.00" y1="287.50" y2="287.50" stroke="#3a2a2a" stroke-width="0.6" stroke-opacity="0.75"/>
<line x1="456.50" x2="485.00" y1="288.20" y2="288.20" stroke="#3a2a2a" stroke-width="0.6" stroke-opacity="0.75"/>
<line x1="456.50" x2="485.00" y1="296.80" y2="296.80" stroke="#3a2a2a" stroke-width="0.6" stroke-opacity="0.75"/>
<line x1="456.50" x2="485.00" y1="297.50" y2="297.50" stroke="#3a2a2a" stroke-width="0.6" stroke-opacity="0.75"/>
<line x1="456.50" x2="485.00" y1="300.80" y2="300.80" stroke="#3a2a2a" stroke-width="0.6" stroke-opacity="0.75"/>
<line x1="456.50" x2="485.00" y1="301.50" y2="301.50" stroke="#3a2a2a" stroke-width="0.6" stroke-opacity="0.75"/>
<rect x="456.50" y="211.20" width="28.50" height="101.20" fill="none" stroke="#3a2a2a" stroke-width="0.6" stroke-opacity="0.8"/>
<path d="M488.5,211.4 H493.2 V222.2 H488.5" fill="none" stroke="#333" stroke-width="0.8"/>
<g transform="translate(498.7,217.3) rotate(90)"><text x="0" y="0" font-size="6.6" fill="#444" stroke="#444" stroke-width="0.22" text-anchor="middle" textLength="13.4" lengthAdjust="spacingAndGlyphs" >MLP</text></g>
<path d="M488.5,225.7 H493.2 V268.3 H488.5" fill="none" stroke="#333" stroke-width="0.8"/>
<g transform="translate(498.7,247.4) rotate(90)"><text x="0" y="0" font-size="6.6" fill="#444" stroke="#444" stroke-width="0.22" text-anchor="middle" textLength="25.5" lengthAdjust="spacingAndGlyphs" >MEP/EP</text></g>
<path d="M488.5,269.3 H493.2 V311.6 H488.5" fill="none" stroke="#333" stroke-width="0.8"/>
<g transform="translate(498.7,290.0) rotate(90)"><text x="0" y="0" font-size="6.6" fill="#444" stroke="#444" stroke-width="0.22" text-anchor="middle" textLength="27.6" lengthAdjust="spacingAndGlyphs" >Immature</text></g>
<path d="M493.2,268.8 l-2,-1 v2 z" fill="#333"/>
<line x1="274.8" y1="387.4" x2="274.8" y2="500.2" stroke="#222" stroke-width="0.9"/>
<line x1="274.40000000000003" y1="499.7" x2="458" y2="499.7" stroke="#222" stroke-width="0.9"/>
<line x1="272.40000000000003" y1="499.70" x2="274.8" y2="499.70" stroke="#222" stroke-width="0.8"/>
<text x="269.8" y="501.80" font-size="6.6" fill="#454545" stroke="#454545" stroke-width="0.22" text-anchor="end" >0</text>
<line x1="272.40000000000003" y1="488.52" x2="274.8" y2="488.52" stroke="#222" stroke-width="0.8"/>
<text x="269.8" y="490.62" font-size="6.6" fill="#454545" stroke="#454545" stroke-width="0.22" text-anchor="end" >10</text>
<line x1="272.40000000000003" y1="477.34" x2="274.8" y2="477.34" stroke="#222" stroke-width="0.8"/>
<text x="269.8" y="479.44" font-size="6.6" fill="#454545" stroke="#454545" stroke-width="0.22" text-anchor="end" >20</text>
<line x1="272.40000000000003" y1="466.16" x2="274.8" y2="466.16" stroke="#222" stroke-width="0.8"/>
<text x="269.8" y="468.26" font-size="6.6" fill="#454545" stroke="#454545" stroke-width="0.22" text-anchor="end" >30</text>
<line x1="272.40000000000003" y1="454.98" x2="274.8" y2="454.98" stroke="#222" stroke-width="0.8"/>
<text x="269.8" y="457.08" font-size="6.6" fill="#454545" stroke="#454545" stroke-width="0.22" text-anchor="end" >40</text>
<line x1="272.40000000000003" y1="443.80" x2="274.8" y2="443.80" stroke="#222" stroke-width="0.8"/>
<text x="269.8" y="445.90" font-size="6.6" fill="#454545" stroke="#454545" stroke-width="0.22" text-anchor="end" >50</text>
<line x1="272.40000000000003" y1="432.62" x2="274.8" y2="432.62" stroke="#222" stroke-width="0.8"/>
<text x="269.8" y="434.72" font-size="6.6" fill="#454545" stroke="#454545" stroke-width="0.22" text-anchor="end" >60</text>
<line x1="272.40000000000003" y1="421.44" x2="274.8" y2="421.44" stroke="#222" stroke-width="0.8"/>
<text x="269.8" y="423.54" font-size="6.6" fill="#454545" stroke="#454545" stroke-width="0.22" text-anchor="end" >70</text>
<line x1="272.40000000000003" y1="410.26" x2="274.8" y2="410.26" stroke="#222" stroke-width="0.8"/>
<text x="269.8" y="412.36" font-size="6.6" fill="#454545" stroke="#454545" stroke-width="0.22" text-anchor="end" >80</text>
<line x1="272.40000000000003" y1="399.08" x2="274.8" y2="399.08" stroke="#222" stroke-width="0.8"/>
<text x="269.8" y="401.18" font-size="6.6" fill="#454545" stroke="#454545" stroke-width="0.22" text-anchor="end" >90</text>
<line x1="272.40000000000003" y1="387.90" x2="274.8" y2="387.90" stroke="#222" stroke-width="0.8"/>
<text x="269.8" y="390.00" font-size="6.6" fill="#454545" stroke="#454545" stroke-width="0.22" text-anchor="end" >100</text>
<rect x="279.20" y="387.90" width="13.80" height="5.30" fill="#2d3f95"/>
<rect x="279.20" y="393.20" width="13.80" height="1.70" fill="#6a2a20"/>
<rect x="279.20" y="394.90" width="13.80" height="7.50" fill="#e8521f"/>
<rect x="279.20" y="402.40" width="13.80" height="3.20" fill="#f5b8a0"/>
<rect x="279.20" y="405.60" width="13.80" height="21.60" fill="#dc1a1a"/>
<rect x="279.20" y="427.20" width="13.80" height="72.50" fill="#e8200f"/>
<line x1="279.20" x2="293.00" y1="393.20" y2="393.20" stroke="#3a2a2a" stroke-width="0.6" stroke-opacity="0.75"/>
<line x1="279.20" x2="293.00" y1="394.90" y2="394.90" stroke="#3a2a2a" stroke-width="0.6" stroke-opacity="0.75"/>
<line x1="279.20" x2="293.00" y1="402.40" y2="402.40" stroke="#3a2a2a" stroke-width="0.6" stroke-opacity="0.75"/>
<line x1="279.20" x2="293.00" y1="405.60" y2="405.60" stroke="#3a2a2a" stroke-width="0.6" stroke-opacity="0.75"/>
<line x1="279.20" x2="293.00" y1="427.20" y2="427.20" stroke="#3a2a2a" stroke-width="0.6" stroke-opacity="0.75"/>
<rect x="279.20" y="387.90" width="13.80" height="111.80" fill="none" stroke="#3a2a2a" stroke-width="0.6" stroke-opacity="0.8"/>
<line x1="286.10" y1="499.7" x2="286.10" y2="502.5" stroke="#222" stroke-width="0.8"/>
<g transform="translate(289.70,507.90) rotate(-45)"><text x="0" y="0" font-size="6.8" fill="#444" stroke="#444" stroke-width="0.22" text-anchor="end" >HSC</text></g>
<rect x="297.33" y="387.90" width="13.80" height="1.00" fill="#3a3040"/>
<rect x="297.33" y="388.90" width="13.80" height="2.20" fill="#f5eda0"/>
<rect x="297.33" y="391.10" width="13.80" height="1.10" fill="#20204a"/>
<rect x="297.33" y="392.20" width="13.80" height="4.30" fill="#2d3f95"/>
<rect x="297.33" y="396.50" width="13.80" height="1.10" fill="#202050"/>
<rect x="297.33" y="397.60" width="13.80" height="7.50" fill="#3b1a80"/>
<rect x="297.33" y="405.10" width="13.80" height="4.30" fill="#c8a8e0"/>
<rect x="297.33" y="409.40" width="13.80" height="1.60" fill="#40304a"/>
<rect x="297.33" y="411.00" width="13.80" height="1.60" fill="#f8f0c0"/>
<rect x="297.33" y="412.60" width="13.80" height="2.20" fill="#5a2020"/>
<rect x="297.33" y="414.80" width="13.80" height="5.90" fill="#f06060"/>
<rect x="297.33" y="420.70" width="13.80" height="3.80" fill="#d83020"/>
<rect x="297.33" y="424.50" width="13.80" height="3.20" fill="#f7b090"/>
<rect x="297.33" y="427.70" width="13.80" height="1.10" fill="#9a1a1a"/>
<rect x="297.33" y="428.80" width="13.80" height="8.10" fill="#e01b1b"/>
<rect x="297.33" y="436.90" width="13.80" height="0.70" fill="#9a1a1a"/>
<rect x="297.33" y="437.60" width="13.80" height="62.10" fill="#e8200f"/>
<line x1="297.33" x2="311.13" y1="388.90" y2="388.90" stroke="#3a2a2a" stroke-width="0.6" stroke-opacity="0.75"/>
<line x1="297.33" x2="311.13" y1="391.10" y2="391.10" stroke="#3a2a2a" stroke-width="0.6" stroke-opacity="0.75"/>
<line x1="297.33" x2="311.13" y1="392.20" y2="392.20" stroke="#3a2a2a" stroke-width="0.6" stroke-opacity="0.75"/>
<line x1="297.33" x2="311.13" y1="396.50" y2="396.50" stroke="#3a2a2a" stroke-width="0.6" stroke-opacity="0.75"/>
<line x1="297.33" x2="311.13" y1="397.60" y2="397.60" stroke="#3a2a2a" stroke-width="0.6" stroke-opacity="0.75"/>
<line x1="297.33" x2="311.13" y1="405.10" y2="405.10" stroke="#3a2a2a" stroke-width="0.6" stroke-opacity="0.75"/>
<line x1="297.33" x2="311.13" y1="409.40" y2="409.40" stroke="#3a2a2a" stroke-width="0.6" stroke-opacity="0.75"/>
<line x1="297.33" x2="311.13" y1="411.00" y2="411.00" stroke="#3a2a2a" stroke-width="0.6" stroke-opacity="0.75"/>
<line x1="297.33" x2="311.13" y1="412.60" y2="412.60" stroke="#3a2a2a" stroke-width="0.6" stroke-opacity="0.75"/>
<line x1="297.33" x2="311.13" y1="414.80" y2="414.80" stroke="#3a2a2a" stroke-width="0.6" stroke-opacity="0.75"/>
<line x1="297.33" x2="311.13" y1="420.70" y2="420.70" stroke="#3a2a2a" stroke-width="0.6" stroke-opacity="0.75"/>
<line x1="297.33" x2="311.13" y1="424.50" y2="424.50" stroke="#3a2a2a" stroke-width="0.6" stroke-opacity="0.75"/>
<line x1="297.33" x2="311.13" y1="427.70" y2="427.70" stroke="#3a2a2a" stroke-width="0.6" stroke-opacity="0.75"/>
<line x1="297.33" x2="311.13" y1="428.80" y2="428.80" stroke="#3a2a2a" stroke-width="0.6" stroke-opacity="0.75"/>
<line x1="297.33" x2="311.13" y1="436.90" y2="436.90" stroke="#3a2a2a" stroke-width="0.6" stroke-opacity="0.75"/>
<line x1="297.33" x2="311.13" y1="437.60" y2="437.60" stroke="#3a2a2a" stroke-width="0.6" stroke-opacity="0.75"/>
<rect x="297.33" y="387.90" width="13.80" height="111.80" fill="none" stroke="#3a2a2a" stroke-width="0.6" stroke-opacity="0.8"/>
<line x1="304.23" y1="499.7" x2="304.23" y2="502.5" stroke="#222" stroke-width="0.8"/>
<g transform="translate(307.83,507.90) rotate(-45)"><text x="0" y="0" font-size="6.8" fill="#444" stroke="#444" stroke-width="0.22" text-anchor="end" >MPP</text></g>
<rect x="315.46" y="387.90" width="13.80" height="1.80" fill="#2a4a20"/>
<rect x="315.46" y="389.70" width="13.80" height="104.30" fill="#fbd07c"/>
<rect x="315.46" y="494.00" width="13.80" height="5.70" fill="#2d1a5c"/>
<line x1="315.46" x2="329.26" y1="389.70" y2="389.70" stroke="#3a2a2a" stroke-width="0.6" stroke-opacity="0.75"/>
<line x1="315.46" x2="329.26" y1="494.00" y2="494.00" stroke="#3a2a2a" stroke-width="0.6" stroke-opacity="0.75"/>
<rect x="315.46" y="387.90" width="13.80" height="111.80" fill="none" stroke="#3a2a2a" stroke-width="0.6" stroke-opacity="0.8"/>
<line x1="322.36" y1="499.7" x2="322.36" y2="502.5" stroke="#222" stroke-width="0.8"/>
<g transform="translate(325.96,507.90) rotate(-45)"><text x="0" y="0" font-size="6.8" fill="#444" stroke="#444" stroke-width="0.22" text-anchor="end" >MLP</text></g>
<rect x="333.59" y="387.90" width="13.80" height="40.90" fill="#5cb531"/>
<rect x="333.59" y="428.80" width="13.80" height="0.80" fill="#2a3a10"/>
<rect x="333.59" y="429.60" width="13.80" height="28.20" fill="#fcd080"/>
<rect x="333.59" y="457.80" width="13.80" height="0.60" fill="#203050"/>
<rect x="333.59" y="458.40" width="13.80" height="13.40" fill="#4a86c8"/>
<rect x="333.59" y="471.80" width="13.80" height="1.60" fill="#22205a"/>
<rect x="333.59" y="473.40" width="13.80" height="1.10" fill="#8a4a20"/>
<rect x="333.59" y="474.50" width="13.80" height="6.20" fill="#a01050"/>
<rect x="333.59" y="480.70" width="13.80" height="2.80" fill="#5a1a60"/>
<rect x="333.59" y="483.50" width="13.80" height="4.90" fill="#d090d0"/>
<rect x="333.59" y="488.40" width="13.80" height="4.00" fill="#2a1a50"/>
<rect x="333.59" y="492.40" width="13.80" height="2.00" fill="#702020"/>
<rect x="333.59" y="494.40" width="13.80" height="5.30" fill="#e8501a"/>
<line x1="333.59" x2="347.39" y1="428.80" y2="428.80" stroke="#3a2a2a" stroke-width="0.6" stroke-opacity="0.75"/>
<line x1="333.59" x2="347.39" y1="429.60" y2="429.60" stroke="#3a2a2a" stroke-width="0.6" stroke-opacity="0.75"/>
<line x1="333.59" x2="347.39" y1="457.80" y2="457.80" stroke="#3a2a2a" stroke-width="0.6" stroke-opacity="0.75"/>
<line x1="333.59" x2="347.39" y1="458.40" y2="458.40" stroke="#3a2a2a" stroke-width="0.6" stroke-opacity="0.75"/>
<line x1="333.59" x2="347.39" y1="471.80" y2="471.80" stroke="#3a2a2a" stroke-width="0.6" stroke-opacity="0.75"/>
<line x1="333.59" x2="347.39" y1="473.40" y2="473.40" stroke="#3a2a2a" stroke-width="0.6" stroke-opacity="0.75"/>
<line x1="333.59" x2="347.39" y1="474.50" y2="474.50" stroke="#3a2a2a" stroke-width="0.6" stroke-opacity="0.75"/>
<line x1="333.59" x2="347.39" y1="480.70" y2="480.70" stroke="#3a2a2a" stroke-width="0.6" stroke-opacity="0.75"/>
<line x1="333.59" x2="347.39" y1="483.50" y2="483.50" stroke="#3a2a2a" stroke-width="0.6" stroke-opacity="0.75"/>
<line x1="333.59" x2="347.39" y1="488.40" y2="488.40" stroke="#3a2a2a" stroke-width="0.6" stroke-opacity="0.75"/>
<line x1="333.59" x2="347.39" y1="492.40" y2="492.40" stroke="#3a2a2a" stroke-width="0.6" stroke-opacity="0.75"/>
<line x1="333.59" x2="347.39" y1="494.40" y2="494.40" stroke="#3a2a2a" stroke-width="0.6" stroke-opacity="0.75"/>
<rect x="333.59" y="387.90" width="13.80" height="111.80" fill="none" stroke="#3a2a2a" stroke-width="0.6" stroke-opacity="0.8"/>
<line x1="340.49" y1="499.7" x2="340.49" y2="502.5" stroke="#222" stroke-width="0.8"/>
<g transform="translate(344.09,507.90) rotate(-45)"><text x="0" y="0" font-size="6.8" fill="#444" stroke="#444" stroke-width="0.22" text-anchor="end" >ETP</text></g>
<rect x="351.72" y="387.90" width="13.80" height="23.70" fill="#1a8a45"/>
<rect x="351.72" y="411.60" width="13.80" height="0.60" fill="#203a20"/>
<rect x="351.72" y="412.20" width="13.80" height="67.90" fill="#fcd080"/>
<rect x="351.72" y="480.10" width="13.80" height="2.80" fill="#2a6a9a"/>
<rect x="351.72" y="482.90" width="13.80" height="3.90" fill="#3a2070"/>
<rect x="351.72" y="486.80" width="13.80" height="3.60" fill="#2a1a30"/>
<rect x="351.72" y="490.40" width="13.80" height="9.30" fill="#e85020"/>
<line x1="351.72" x2="365.52" y1="411.60" y2="411.60" stroke="#3a2a2a" stroke-width="0.6" stroke-opacity="0.75"/>
<line x1="351.72" x2="365.52" y1="412.20" y2="412.20" stroke="#3a2a2a" stroke-width="0.6" stroke-opacity="0.75"/>
<line x1="351.72" x2="365.52" y1="480.10" y2="480.10" stroke="#3a2a2a" stroke-width="0.6" stroke-opacity="0.75"/>
<line x1="351.72" x2="365.52" y1="482.90" y2="482.90" stroke="#3a2a2a" stroke-width="0.6" stroke-opacity="0.75"/>
<line x1="351.72" x2="365.52" y1="486.80" y2="486.80" stroke="#3a2a2a" stroke-width="0.6" stroke-opacity="0.75"/>
<line x1="351.72" x2="365.52" y1="490.40" y2="490.40" stroke="#3a2a2a" stroke-width="0.6" stroke-opacity="0.75"/>
<rect x="351.72" y="387.90" width="13.80" height="111.80" fill="none" stroke="#3a2a2a" stroke-width="0.6" stroke-opacity="0.8"/>
<line x1="358.62" y1="499.7" x2="358.62" y2="502.5" stroke="#222" stroke-width="0.8"/>
<g transform="translate(362.22,507.90) rotate(-45)"><text x="0" y="0" font-size="6.8" fill="#444" stroke="#444" stroke-width="0.22" text-anchor="end" >PreBNK</text></g>
<rect x="369.85" y="387.90" width="13.80" height="0.50" fill="#303040"/>
<rect x="369.85" y="388.40" width="13.80" height="2.30" fill="#c8e0f0"/>
<rect x="369.85" y="390.70" width="13.80" height="5.30" fill="#2d4aa0"/>
<rect x="369.85" y="396.00" width="13.80" height="2.60" fill="#8a1040"/>
<rect x="369.85" y="398.60" width="13.80" height="1.10" fill="#3a1050"/>
<rect x="369.85" y="399.70" width="13.80" height="11.90" fill="#c070c0"/>
<rect x="369.85" y="411.60" width="13.80" height="1.80" fill="#2a1a50"/>
<rect x="369.85" y="413.40" width="13.80" height="20.30" fill="#b090d0"/>
<rect x="369.85" y="433.70" width="13.80" height="1.60" fill="#404060"/>
<rect x="369.85" y="435.30" width="13.80" height="4.80" fill="#dde8f8"/>
<rect x="369.85" y="440.10" width="13.80" height="1.40" fill="#909090"/>
<rect x="369.85" y="441.50" width="13.80" height="6.30" fill="#f8e08a"/>
<rect x="369.85" y="447.80" width="13.80" height="0.60" fill="#502030"/>
<rect x="369.85" y="448.40" width="13.80" height="9.40" fill="#d0208a"/>
<rect x="369.85" y="457.80" width="13.80" height="1.20" fill="#502030"/>
<rect x="369.85" y="459.00" width="13.80" height="9.40" fill="#f06070"/>
<rect x="369.85" y="468.40" width="13.80" height="0.80" fill="#502020"/>
<rect x="369.85" y="469.20" width="13.80" height="2.60" fill="#d84020"/>
<rect x="369.85" y="471.80" width="13.80" height="1.10" fill="#803020"/>
<rect x="369.85" y="472.90" width="13.80" height="2.20" fill="#f8c0a0"/>
<rect x="369.85" y="475.10" width="13.80" height="1.10" fill="#603020"/>
<rect x="369.85" y="476.20" width="13.80" height="2.80" fill="#f0b080"/>
<rect x="369.85" y="479.00" width="13.80" height="1.10" fill="#602020"/>
<rect x="369.85" y="480.10" width="13.80" height="19.60" fill="#e01b1b"/>
<line x1="369.85" x2="383.65" y1="388.40" y2="388.40" stroke="#3a2a2a" stroke-width="0.6" stroke-opacity="0.75"/>
<line x1="369.85" x2="383.65" y1="390.70" y2="390.70" stroke="#3a2a2a" stroke-width="0.6" stroke-opacity="0.75"/>
<line x1="369.85" x2="383.65" y1="396.00" y2="396.00" stroke="#3a2a2a" stroke-width="0.6" stroke-opacity="0.75"/>
<line x1="369.85" x2="383.65" y1="398.60" y2="398.60" stroke="#3a2a2a" stroke-width="0.6" stroke-opacity="0.75"/>
<line x1="369.85" x2="383.65" y1="399.70" y2="399.70" stroke="#3a2a2a" stroke-width="0.6" stroke-opacity="0.75"/>
<line x1="369.85" x2="383.65" y1="411.60" y2="411.60" stroke="#3a2a2a" stroke-width="0.6" stroke-opacity="0.75"/>
<line x1="369.85" x2="383.65" y1="413.40" y2="413.40" stroke="#3a2a2a" stroke-width="0.6" stroke-opacity="0.75"/>
<line x1="369.85" x2="383.65" y1="433.70" y2="433.70" stroke="#3a2a2a" stroke-width="0.6" stroke-opacity="0.75"/>
<line x1="369.85" x2="383.65" y1="435.30" y2="435.30" stroke="#3a2a2a" stroke-width="0.6" stroke-opacity="0.75"/>
<line x1="369.85" x2="383.65" y1="440.10" y2="440.10" stroke="#3a2a2a" stroke-width="0.6" stroke-opacity="0.75"/>
<line x1="369.85" x2="383.65" y1="441.50" y2="441.50" stroke="#3a2a2a" stroke-width="0.6" stroke-opacity="0.75"/>
<line x1="369.85" x2="383.65" y1="447.80" y2="447.80" stroke="#3a2a2a" stroke-width="0.6" stroke-opacity="0.75"/>
<line x1="369.85" x2="383.65" y1="448.40" y2="448.40" stroke="#3a2a2a" stroke-width="0.6" stroke-opacity="0.75"/>
<line x1="369.85" x2="383.65" y1="457.80" y2="457.80" stroke="#3a2a2a" stroke-width="0.6" stroke-opacity="0.75"/>
<line x1="369.85" x2="383.65" y1="459.00" y2="459.00" stroke="#3a2a2a" stroke-width="0.6" stroke-opacity="0.75"/>
<line x1="369.85" x2="383.65" y1="468.40" y2="468.40" stroke="#3a2a2a" stroke-width="0.6" stroke-opacity="0.75"/>
<line x1="369.85" x2="383.65" y1="469.20" y2="469.20" stroke="#3a2a2a" stroke-width="0.6" stroke-opacity="0.75"/>
<line x1="369.85" x2="383.65" y1="471.80" y2="471.80" stroke="#3a2a2a" stroke-width="0.6" stroke-opacity="0.75"/>
<line x1="369.85" x2="383.65" y1="472.90" y2="472.90" stroke="#3a2a2a" stroke-width="0.6" stroke-opacity="0.75"/>
<line x1="369.85" x2="383.65" y1="475.10" y2="475.10" stroke="#3a2a2a" stroke-width="0.6" stroke-opacity="0.75"/>
<line x1="369.85" x2="383.65" y1="476.20" y2="476.20" stroke="#3a2a2a" stroke-width="0.6" stroke-opacity="0.75"/>
<line x1="369.85" x2="383.65" y1="479.00" y2="479.00" stroke="#3a2a2a" stroke-width="0.6" stroke-opacity="0.75"/>
<line x1="369.85" x2="383.65" y1="480.10" y2="480.10" stroke="#3a2a2a" stroke-width="0.6" stroke-opacity="0.75"/>
<rect x="369.85" y="387.90" width="13.80" height="111.80" fill="none" stroke="#3a2a2a" stroke-width="0.6" stroke-opacity="0.8"/>
<line x1="376.75" y1="499.7" x2="376.75" y2="502.5" stroke="#222" stroke-width="0.8"/>
<g transform="translate(380.35,507.90) rotate(-45)"><text x="0" y="0" font-size="6.8" fill="#444" stroke="#444" stroke-width="0.22" text-anchor="end" >CMP</text></g>
<rect x="387.98" y="387.90" width="13.80" height="3.20" fill="#1a7a40"/>
<rect x="387.98" y="391.10" width="13.80" height="0.50" fill="#203020"/>
<rect x="387.98" y="391.60" width="13.80" height="7.00" fill="#f8d07a"/>
<rect x="387.98" y="398.60" width="13.80" height="0.60" fill="#302a30"/>
<rect x="387.98" y="399.20" width="13.80" height="22.60" fill="#4a86c8"/>
<rect x="387.98" y="421.80" width="13.80" height="0.90" fill="#203050"/>
<rect x="387.98" y="422.70" width="13.80" height="19.80" fill="#8ccbef"/>
<rect x="387.98" y="442.50" width="13.80" height="0.60" fill="#203050"/>
<rect x="387.98" y="443.10" width="13.80" height="16.90" fill="#2d48a0"/>
<rect x="387.98" y="460.00" width="13.80" height="2.30" fill="#3a1060"/>
<rect x="387.98" y="462.30" width="13.80" height="1.70" fill="#5a1030"/>
<rect x="387.98" y="464.00" width="13.80" height="2.20" fill="#e0b0e0"/>
<rect x="387.98" y="466.20" width="13.80" height="3.00" fill="#8a7aa0"/>
<rect x="387.98" y="469.20" width="13.80" height="0.70" fill="#404050"/>
<rect x="387.98" y="469.90" width="13.80" height="8.00" fill="#dde4f8"/>
<rect x="387.98" y="477.90" width="13.80" height="0.50" fill="#404040"/>
<rect x="387.98" y="478.40" width="13.80" height="4.50" fill="#f8e090"/>
<rect x="387.98" y="482.90" width="13.80" height="1.10" fill="#402020"/>
<rect x="387.98" y="484.00" width="13.80" height="2.20" fill="#d83a20"/>
<rect x="387.98" y="486.20" width="13.80" height="0.60" fill="#602020"/>
<rect x="387.98" y="486.80" width="13.80" height="3.90" fill="#f05a20"/>
<rect x="387.98" y="490.70" width="13.80" height="0.60" fill="#602020"/>
<rect x="387.98" y="491.30" width="13.80" height="4.40" fill="#f8b090"/>
<rect x="387.98" y="495.70" width="13.80" height="1.70" fill="#c08060"/>
<rect x="387.98" y="497.40" width="13.80" height="2.30" fill="#c01020"/>
<line x1="387.98" x2="401.78" y1="391.10" y2="391.10" stroke="#3a2a2a" stroke-width="0.6" stroke-opacity="0.75"/>
<line x1="387.98" x2="401.78" y1="391.60" y2="391.60" stroke="#3a2a2a" stroke-width="0.6" stroke-opacity="0.75"/>
<line x1="387.98" x2="401.78" y1="398.60" y2="398.60" stroke="#3a2a2a" stroke-width="0.6" stroke-opacity="0.75"/>
<line x1="387.98" x2="401.78" y1="399.20" y2="399.20" stroke="#3a2a2a" stroke-width="0.6" stroke-opacity="0.75"/>
<line x1="387.98" x2="401.78" y1="421.80" y2="421.80" stroke="#3a2a2a" stroke-width="0.6" stroke-opacity="0.75"/>
<line x1="387.98" x2="401.78" y1="422.70" y2="422.70" stroke="#3a2a2a" stroke-width="0.6" stroke-opacity="0.75"/>
<line x1="387.98" x2="401.78" y1="442.50" y2="442.50" stroke="#3a2a2a" stroke-width="0.6" stroke-opacity="0.75"/>
<line x1="387.98" x2="401.78" y1="443.10" y2="443.10" stroke="#3a2a2a" stroke-width="0.6" stroke-opacity="0.75"/>
<line x1="387.98" x2="401.78" y1="460.00" y2="460.00" stroke="#3a2a2a" stroke-width="0.6" stroke-opacity="0.75"/>
<line x1="387.98" x2="401.78" y1="462.30" y2="462.30" stroke="#3a2a2a" stroke-width="0.6" stroke-opacity="0.75"/>
<line x1="387.98" x2="401.78" y1="464.00" y2="464.00" stroke="#3a2a2a" stroke-width="0.6" stroke-opacity="0.75"/>
<line x1="387.98" x2="401.78" y1="466.20" y2="466.20" stroke="#3a2a2a" stroke-width="0.6" stroke-opacity="0.75"/>
<line x1="387.98" x2="401.78" y1="469.20" y2="469.20" stroke="#3a2a2a" stroke-width="0.6" stroke-opacity="0.75"/>
<line x1="387.98" x2="401.78" y1="469.90" y2="469.90" stroke="#3a2a2a" stroke-width="0.6" stroke-opacity="0.75"/>
<line x1="387.98" x2="401.78" y1="477.90" y2="477.90" stroke="#3a2a2a" stroke-width="0.6" stroke-opacity="0.75"/>
<line x1="387.98" x2="401.78" y1="478.40" y2="478.40" stroke="#3a2a2a" stroke-width="0.6" stroke-opacity="0.75"/>
<line x1="387.98" x2="401.78" y1="482.90" y2="482.90" stroke="#3a2a2a" stroke-width="0.6" stroke-opacity="0.75"/>
<line x1="387.98" x2="401.78" y1="484.00" y2="484.00" stroke="#3a2a2a" stroke-width="0.6" stroke-opacity="0.75"/>
<line x1="387.98" x2="401.78" y1="486.20" y2="486.20" stroke="#3a2a2a" stroke-width="0.6" stroke-opacity="0.75"/>
<line x1="387.98" x2="401.78" y1="486.80" y2="486.80" stroke="#3a2a2a" stroke-width="0.6" stroke-opacity="0.75"/>
<line x1="387.98" x2="401.78" y1="490.70" y2="490.70" stroke="#3a2a2a" stroke-width="0.6" stroke-opacity="0.75"/>
<line x1="387.98" x2="401.78" y1="491.30" y2="491.30" stroke="#3a2a2a" stroke-width="0.6" stroke-opacity="0.75"/>
<line x1="387.98" x2="401.78" y1="495.70" y2="495.70" stroke="#3a2a2a" stroke-width="0.6" stroke-opacity="0.75"/>
<line x1="387.98" x2="401.78" y1="497.40" y2="497.40" stroke="#3a2a2a" stroke-width="0.6" stroke-opacity="0.75"/>
<rect x="387.98" y="387.90" width="13.80" height="111.80" fill="none" stroke="#3a2a2a" stroke-width="0.6" stroke-opacity="0.8"/>
<line x1="394.88" y1="499.7" x2="394.88" y2="502.5" stroke="#222" stroke-width="0.8"/>
<g transform="translate(398.48,507.90) rotate(-45)"><text x="0" y="0" font-size="6.8" fill="#444" stroke="#444" stroke-width="0.22" text-anchor="end" >GMP</text></g>
<rect x="406.11" y="387.90" width="13.80" height="1.60" fill="#8aa8d0"/>
<rect x="406.11" y="389.50" width="13.80" height="3.70" fill="#2d3f95"/>
<rect x="406.11" y="393.20" width="13.80" height="0.60" fill="#202030"/>
<rect x="406.11" y="393.80" width="13.80" height="46.30" fill="#a0520f"/>
<rect x="406.11" y="440.10" width="13.80" height="23.90" fill="#a81050"/>
<rect x="406.11" y="464.00" width="13.80" height="0.50" fill="#401020"/>
<rect x="406.11" y="464.50" width="13.80" height="6.10" fill="#8a1a80"/>
<rect x="406.11" y="470.60" width="13.80" height="0.60" fill="#401030"/>
<rect x="406.11" y="471.20" width="13.80" height="20.60" fill="#c880c8"/>
<rect x="406.11" y="491.80" width="13.80" height="2.80" fill="#3a1a30"/>
<rect x="406.11" y="494.60" width="13.80" height="5.10" fill="#e85020"/>
<line x1="406.11" x2="419.91" y1="389.50" y2="389.50" stroke="#3a2a2a" stroke-width="0.6" stroke-opacity="0.75"/>
<line x1="406.11" x2="419.91" y1="393.20" y2="393.20" stroke="#3a2a2a" stroke-width="0.6" stroke-opacity="0.75"/>
<line x1="406.11" x2="419.91" y1="393.80" y2="393.80" stroke="#3a2a2a" stroke-width="0.6" stroke-opacity="0.75"/>
<line x1="406.11" x2="419.91" y1="440.10" y2="440.10" stroke="#3a2a2a" stroke-width="0.6" stroke-opacity="0.75"/>
<line x1="406.11" x2="419.91" y1="464.00" y2="464.00" stroke="#3a2a2a" stroke-width="0.6" stroke-opacity="0.75"/>
<line x1="406.11" x2="419.91" y1="464.50" y2="464.50" stroke="#3a2a2a" stroke-width="0.6" stroke-opacity="0.75"/>
<line x1="406.11" x2="419.91" y1="470.60" y2="470.60" stroke="#3a2a2a" stroke-width="0.6" stroke-opacity="0.75"/>
<line x1="406.11" x2="419.91" y1="471.20" y2="471.20" stroke="#3a2a2a" stroke-width="0.6" stroke-opacity="0.75"/>
<line x1="406.11" x2="419.91" y1="491.80" y2="491.80" stroke="#3a2a2a" stroke-width="0.6" stroke-opacity="0.75"/>
<line x1="406.11" x2="419.91" y1="494.60" y2="494.60" stroke="#3a2a2a" stroke-width="0.6" stroke-opacity="0.75"/>
<rect x="406.11" y="387.90" width="13.80" height="111.80" fill="none" stroke="#3a2a2a" stroke-width="0.6" stroke-opacity="0.8"/>
<line x1="413.01" y1="499.7" x2="413.01" y2="502.5" stroke="#222" stroke-width="0.8"/>
<g transform="translate(416.61,507.90) rotate(-45)"><text x="0" y="0" font-size="6.8" fill="#444" stroke="#444" stroke-width="0.22" text-anchor="end" >MEP</text></g>
<rect x="424.24" y="387.90" width="13.80" height="1.60" fill="#8ac0e8"/>
<rect x="424.24" y="389.50" width="13.80" height="9.10" fill="#2d3f95"/>
<rect x="424.24" y="398.60" width="13.80" height="0.60" fill="#202030"/>
<rect x="424.24" y="399.20" width="13.80" height="27.50" fill="#a8104a"/>
<rect x="424.24" y="426.70" width="13.80" height="0.50" fill="#401020"/>
<rect x="424.24" y="427.20" width="13.80" height="9.70" fill="#8a1a90"/>
<rect x="424.24" y="436.90" width="13.80" height="1.10" fill="#401030"/>
<rect x="424.24" y="438.00" width="13.80" height="47.70" fill="#c890c8"/>
<rect x="424.24" y="485.70" width="13.80" height="1.10" fill="#3a1a40"/>
<rect x="424.24" y="486.80" width="13.80" height="3.30" fill="#b0a0d0"/>
<rect x="424.24" y="490.10" width="13.80" height="2.30" fill="#402030"/>
<rect x="424.24" y="492.40" width="13.80" height="7.30" fill="#e85020"/>
<line x1="424.24" x2="438.04" y1="389.50" y2="389.50" stroke="#3a2a2a" stroke-width="0.6" stroke-opacity="0.75"/>
<line x1="424.24" x2="438.04" y1="398.60" y2="398.60" stroke="#3a2a2a" stroke-width="0.6" stroke-opacity="0.75"/>
<line x1="424.24" x2="438.04" y1="399.20" y2="399.20" stroke="#3a2a2a" stroke-width="0.6" stroke-opacity="0.75"/>
<line x1="424.24" x2="438.04" y1="426.70" y2="426.70" stroke="#3a2a2a" stroke-width="0.6" stroke-opacity="0.75"/>
<line x1="424.24" x2="438.04" y1="427.20" y2="427.20" stroke="#3a2a2a" stroke-width="0.6" stroke-opacity="0.75"/>
<line x1="424.24" x2="438.04" y1="436.90" y2="436.90" stroke="#3a2a2a" stroke-width="0.6" stroke-opacity="0.75"/>
<line x1="424.24" x2="438.04" y1="438.00" y2="438.00" stroke="#3a2a2a" stroke-width="0.6" stroke-opacity="0.75"/>
<line x1="424.24" x2="438.04" y1="485.70" y2="485.70" stroke="#3a2a2a" stroke-width="0.6" stroke-opacity="0.75"/>
<line x1="424.24" x2="438.04" y1="486.80" y2="486.80" stroke="#3a2a2a" stroke-width="0.6" stroke-opacity="0.75"/>
<line x1="424.24" x2="438.04" y1="490.10" y2="490.10" stroke="#3a2a2a" stroke-width="0.6" stroke-opacity="0.75"/>
<line x1="424.24" x2="438.04" y1="492.40" y2="492.40" stroke="#3a2a2a" stroke-width="0.6" stroke-opacity="0.75"/>
<rect x="424.24" y="387.90" width="13.80" height="111.80" fill="none" stroke="#3a2a2a" stroke-width="0.6" stroke-opacity="0.8"/>
<line x1="431.14" y1="499.7" x2="431.14" y2="502.5" stroke="#222" stroke-width="0.8"/>
<g transform="translate(434.74,507.90) rotate(-45)"><text x="0" y="0" font-size="6.8" fill="#444" stroke="#444" stroke-width="0.22" text-anchor="end" >EP</text></g>
<rect x="442.37" y="387.90" width="13.80" height="3.70" fill="#4a86c8"/>
<rect x="442.37" y="391.60" width="13.80" height="0.60" fill="#203050"/>
<rect x="442.37" y="392.20" width="13.80" height="5.90" fill="#9ad8f0"/>
<rect x="442.37" y="398.10" width="13.80" height="2.20" fill="#202040"/>
<rect x="442.37" y="400.30" width="13.80" height="5.90" fill="#a0520f"/>
<rect x="442.37" y="406.20" width="13.80" height="8.10" fill="#a8104a"/>
<rect x="442.37" y="414.30" width="13.80" height="3.20" fill="#8a1a70"/>
<rect x="442.37" y="417.50" width="13.80" height="0.50" fill="#401030"/>
<rect x="442.37" y="418.00" width="13.80" height="36.00" fill="#c890c8"/>
<rect x="442.37" y="454.00" width="13.80" height="1.00" fill="#3a1a50"/>
<rect x="442.37" y="455.00" width="13.80" height="5.00" fill="#c0a8d8"/>
<rect x="442.37" y="460.00" width="13.80" height="1.70" fill="#303050"/>
<rect x="442.37" y="461.70" width="13.80" height="6.20" fill="#dde8f8"/>
<rect x="442.37" y="467.90" width="13.80" height="1.10" fill="#404040"/>
<rect x="442.37" y="469.00" width="13.80" height="3.90" fill="#f8e090"/>
<rect x="442.37" y="472.90" width="13.80" height="0.50" fill="#502020"/>
<rect x="442.37" y="473.40" width="13.80" height="11.20" fill="#d8208a"/>
<rect x="442.37" y="484.60" width="13.80" height="1.10" fill="#502020"/>
<rect x="442.37" y="485.70" width="13.80" height="11.10" fill="#e85020"/>
<rect x="442.37" y="496.80" width="13.80" height="0.60" fill="#502020"/>
<rect x="442.37" y="497.40" width="13.80" height="2.30" fill="#c01020"/>
<line x1="442.37" x2="456.17" y1="391.60" y2="391.60" stroke="#3a2a2a" stroke-width="0.6" stroke-opacity="0.75"/>
<line x1="442.37" x2="456.17" y1="392.20" y2="392.20" stroke="#3a2a2a" stroke-width="0.6" stroke-opacity="0.75"/>
<line x1="442.37" x2="456.17" y1="398.10" y2="398.10" stroke="#3a2a2a" stroke-width="0.6" stroke-opacity="0.75"/>
<line x1="442.37" x2="456.17" y1="400.30" y2="400.30" stroke="#3a2a2a" stroke-width="0.6" stroke-opacity="0.75"/>
<line x1="442.37" x2="456.17" y1="406.20" y2="406.20" stroke="#3a2a2a" stroke-width="0.6" stroke-opacity="0.75"/>
<line x1="442.37" x2="456.17" y1="414.30" y2="414.30" stroke="#3a2a2a" stroke-width="0.6" stroke-opacity="0.75"/>
<line x1="442.37" x2="456.17" y1="417.50" y2="417.50" stroke="#3a2a2a" stroke-width="0.6" stroke-opacity="0.75"/>
<line x1="442.37" x2="456.17" y1="418.00" y2="418.00" stroke="#3a2a2a" stroke-width="0.6" stroke-opacity="0.75"/>
<line x1="442.37" x2="456.17" y1="454.00" y2="454.00" stroke="#3a2a2a" stroke-width="0.6" stroke-opacity="0.75"/>
<line x1="442.37" x2="456.17" y1="455.00" y2="455.00" stroke="#3a2a2a" stroke-width="0.6" stroke-opacity="0.75"/>
<line x1="442.37" x2="456.17" y1="460.00" y2="460.00" stroke="#3a2a2a" stroke-width="0.6" stroke-opacity="0.75"/>
<line x1="442.37" x2="456.17" y1="461.70" y2="461.70" stroke="#3a2a2a" stroke-width="0.6" stroke-opacity="0.75"/>
<line x1="442.37" x2="456.17" y1="467.90" y2="467.90" stroke="#3a2a2a" stroke-width="0.6" stroke-opacity="0.75"/>
<line x1="442.37" x2="456.17" y1="469.00" y2="469.00" stroke="#3a2a2a" stroke-width="0.6" stroke-opacity="0.75"/>
<line x1="442.37" x2="456.17" y1="472.90" y2="472.90" stroke="#3a2a2a" stroke-width="0.6" stroke-opacity="0.75"/>
<line x1="442.37" x2="456.17" y1="473.40" y2="473.40" stroke="#3a2a2a" stroke-width="0.6" stroke-opacity="0.75"/>
<line x1="442.37" x2="456.17" y1="484.60" y2="484.60" stroke="#3a2a2a" stroke-width="0.6" stroke-opacity="0.75"/>
<line x1="442.37" x2="456.17" y1="485.70" y2="485.70" stroke="#3a2a2a" stroke-width="0.6" stroke-opacity="0.75"/>
<line x1="442.37" x2="456.17" y1="496.80" y2="496.80" stroke="#3a2a2a" stroke-width="0.6" stroke-opacity="0.75"/>
<line x1="442.37" x2="456.17" y1="497.40" y2="497.40" stroke="#3a2a2a" stroke-width="0.6" stroke-opacity="0.75"/>
<rect x="442.37" y="387.90" width="13.80" height="111.80" fill="none" stroke="#3a2a2a" stroke-width="0.6" stroke-opacity="0.8"/>
<line x1="449.27" y1="499.7" x2="449.27" y2="502.5" stroke="#222" stroke-width="0.8"/>
<g transform="translate(452.87,507.90) rotate(-45)"><text x="0" y="0" font-size="6.8" fill="#444" stroke="#444" stroke-width="0.22" text-anchor="end" >MKP</text></g>
<g transform="translate(242.6,442) rotate(-90)"><text x="0" y="0" font-size="8.5" fill="#454545" stroke="#454545" stroke-width="0.22" text-anchor="middle" textLength="80" lengthAdjust="spacingAndGlyphs" >Distribution across clusters</text></g>
<g transform="translate(252.2,442) rotate(-90)"><text x="0" y="0" font-size="8.5" fill="#454545" stroke="#454545" stroke-width="0.22" text-anchor="middle" textLength="64.5" lengthAdjust="spacingAndGlyphs" >(relative frequencies)</text></g>
<rect x="467.6" y="390.90" width="4.9" height="3.2" rx="0.5" fill="#c8141e" stroke="#7a0a14" stroke-width="0.8"/>
<text x="475.3" y="394.50" font-size="5.8" fill="#7a7a7a" stroke="#7a7a7a" stroke-width="0.22" >1</text>
<rect x="467.6" y="396.24" width="4.9" height="3.2" rx="0.5" fill="#a00f1a" stroke="#5a0810" stroke-width="0.8"/>
<text x="475.3" y="399.84" font-size="5.8" fill="#7a7a7a" stroke="#7a7a7a" stroke-width="0.22" >12</text>
<rect x="467.6" y="401.58" width="4.9" height="3.2" rx="0.5" fill="#f6c4ac" stroke="#7a6a50" stroke-width="0.8"/>
<text x="475.3" y="405.18" font-size="5.8" fill="#7a7a7a" stroke="#7a7a7a" stroke-width="0.22" >11</text>
<rect x="467.6" y="406.92" width="4.9" height="3.2" rx="0.5" fill="#eaa696" stroke="#7a5a4a" stroke-width="0.8"/>
<text x="475.3" y="410.52" font-size="5.8" fill="#7a7a7a" stroke="#7a7a7a" stroke-width="0.22" >9</text>
<rect x="467.6" y="412.26" width="4.9" height="3.2" rx="0.5" fill="#dc4424" stroke="#7a2010" stroke-width="0.8"/>
<text x="475.3" y="415.86" font-size="5.8" fill="#7a7a7a" stroke="#7a7a7a" stroke-width="0.22" >8</text>
<rect x="467.6" y="417.60" width="4.9" height="3.2" rx="0.5" fill="#e26474" stroke="#8a2030" stroke-width="0.8"/>
<text x="475.3" y="421.20" font-size="5.8" fill="#7a7a7a" stroke="#7a7a7a" stroke-width="0.22" >0.0</text>
<rect x="467.6" y="422.94" width="4.9" height="3.2" rx="0.5" fill="#c0308a" stroke="#6a1a4a" stroke-width="0.8"/>
<text x="475.3" y="426.54" font-size="5.8" fill="#7a7a7a" stroke="#7a7a7a" stroke-width="0.22" >0.1</text>
<rect x="467.6" y="428.28" width="4.9" height="3.2" rx="0.5" fill="#f8f2c8" stroke="#8a8a50" stroke-width="0.8"/>
<text x="475.3" y="431.88" font-size="5.8" fill="#7a7a7a" stroke="#7a7a7a" stroke-width="0.22" >0.2</text>
<rect x="467.6" y="433.62" width="4.9" height="3.2" rx="0.5" fill="#f2f4fa" stroke="#6a6a7a" stroke-width="0.8"/>
<text x="475.3" y="437.22" font-size="5.8" fill="#7a7a7a" stroke="#7a7a7a" stroke-width="0.22" >0.3</text>
<rect x="467.6" y="438.96" width="4.9" height="3.2" rx="0.5" fill="#a49cc4" stroke="#5a5070" stroke-width="0.8"/>
<text x="475.3" y="442.56" font-size="5.8" fill="#7a7a7a" stroke="#7a7a7a" stroke-width="0.22" >3</text>
<rect x="467.6" y="444.30" width="4.9" height="3.2" rx="0.5" fill="#1e1a50" stroke="#14102a" stroke-width="0.8"/>
<text x="475.3" y="447.90" font-size="5.8" fill="#7a7a7a" stroke="#7a7a7a" stroke-width="0.22" >14</text>
<rect x="467.6" y="449.64" width="4.9" height="3.2" rx="0.5" fill="#a890c8" stroke="#5a4a70" stroke-width="0.8"/>
<text x="475.3" y="453.24" font-size="5.8" fill="#7a7a7a" stroke="#7a7a7a" stroke-width="0.22" >2</text>
<rect x="467.6" y="454.98" width="4.9" height="3.2" rx="0.5" fill="#5a1a5a" stroke="#300a30" stroke-width="0.8"/>
<text x="475.3" y="458.58" font-size="5.8" fill="#7a7a7a" stroke="#7a7a7a" stroke-width="0.22" >13</text>
<rect x="467.6" y="460.32" width="4.9" height="3.2" rx="0.5" fill="#7a0f30" stroke="#40081a" stroke-width="0.8"/>
<text x="475.3" y="463.92" font-size="5.8" fill="#7a7a7a" stroke="#7a7a7a" stroke-width="0.22" >6</text>
<rect x="467.6" y="465.66" width="4.9" height="3.2" rx="0.5" fill="#6a3a1a" stroke="#3a1a0a" stroke-width="0.8"/>
<text x="475.3" y="469.26" font-size="5.8" fill="#7a7a7a" stroke="#7a7a7a" stroke-width="0.22" >16</text>
<rect x="467.6" y="471.00" width="4.9" height="3.2" rx="0.5" fill="#1e2a70" stroke="#101840" stroke-width="0.8"/>
<text x="475.3" y="474.60" font-size="5.8" fill="#7a7a7a" stroke="#7a7a7a" stroke-width="0.22" >5</text>
<rect x="467.6" y="476.34" width="4.9" height="3.2" rx="0.5" fill="#b4dcf2" stroke="#4a6a80" stroke-width="0.8"/>
<text x="475.3" y="479.94" font-size="5.8" fill="#7a7a7a" stroke="#7a7a7a" stroke-width="0.22" >7</text>
<rect x="467.6" y="481.68" width="4.9" height="3.2" rx="0.5" fill="#3a68b0" stroke="#1a3a6a" stroke-width="0.8"/>
<text x="475.3" y="485.28" font-size="5.8" fill="#7a7a7a" stroke="#7a7a7a" stroke-width="0.22" >10</text>
<rect x="467.6" y="487.02" width="4.9" height="3.2" rx="0.5" fill="#fadcb0" stroke="#8a7050" stroke-width="0.8"/>
<text x="475.3" y="490.62" font-size="5.8" fill="#7a7a7a" stroke="#7a7a7a" stroke-width="0.22" >4</text>
<rect x="467.6" y="492.36" width="4.9" height="3.2" rx="0.5" fill="#1a7a3a" stroke="#0a4a1a" stroke-width="0.8"/>
<text x="475.3" y="495.96" font-size="5.8" fill="#7a7a7a" stroke="#7a7a7a" stroke-width="0.22" >15</text>
<rect x="467.6" y="497.70" width="4.9" height="3.2" rx="0.5" fill="#7a9a40" stroke="#4a6020" stroke-width="0.8"/>
<text x="475.3" y="501.30" font-size="5.8" fill="#7a7a7a" stroke="#7a7a7a" stroke-width="0.22" >17</text>
<line x1="486.1" y1="390.3" x2="486.1" y2="437.6" stroke="#555" stroke-width="0.7"/>
<text x="488.8" y="415.5" font-size="5.8" fill="#5a5a5a" stroke="#5a5a5a" stroke-width="0.22" >Immature</text>
<line x1="486.1" y1="438.0" x2="486.1" y2="452.6" stroke="#555" stroke-width="0.7"/>
<text x="488.8" y="447.9" font-size="5.8" fill="#5a5a5a" stroke="#5a5a5a" stroke-width="0.22" >MEP</text>
<line x1="486.1" y1="454.6" x2="486.1" y2="461.4" stroke="#555" stroke-width="0.7"/>
<text x="488.8" y="460.6" font-size="5.8" fill="#5a5a5a" stroke="#5a5a5a" stroke-width="0.22" >EP</text>
<line x1="486.1" y1="464.4" x2="486.1" y2="469.4" stroke="#555" stroke-width="0.7"/>
<text x="488.8" y="468.2" font-size="5.8" fill="#5a5a5a" stroke="#5a5a5a" stroke-width="0.22" >MKP</text>
<line x1="486.1" y1="470.6" x2="486.1" y2="485.4" stroke="#555" stroke-width="0.7"/>
<text x="488.8" y="478.9" font-size="5.8" fill="#5a5a5a" stroke="#5a5a5a" stroke-width="0.22" >Myeloid</text>
<line x1="486.1" y1="486.6" x2="486.1" y2="501.6" stroke="#555" stroke-width="0.7"/>
<text x="488.8" y="495.6" font-size="5.8" fill="#5a5a5a" stroke="#5a5a5a" stroke-width="0.22" >Lymphoid</text>
<g filter="url(#sc)">
<path d="M68.0,425.0 C72.7,422.8 81.7,424.0 88.0,424.0 C94.3,424.0 101.3,424.0 106.0,425.0 C110.7,426.0 114.7,427.8 116.0,430.0 C117.3,432.2 116.0,435.7 114.0,438.0 C112.0,440.3 107.0,442.0 104.0,444.0 C101.0,446.0 96.0,447.3 96.0,450.0 C96.0,452.7 101.7,455.3 104.0,460.0 C106.3,464.7 106.3,473.3 110.0,478.0 C113.7,482.7 119.0,486.7 126.0,488.0 C133.0,489.3 145.0,485.3 152.0,486.0 C159.0,486.7 165.2,488.7 168.0,492.0 C170.8,495.3 170.0,501.7 169.0,506.0 C168.0,510.3 166.0,515.2 162.0,518.0 C158.0,520.8 149.0,520.3 145.0,523.0 C141.0,525.7 140.3,530.8 138.0,534.0 C135.7,537.2 134.3,541.7 131.0,542.0 C127.7,542.3 123.2,538.0 118.0,536.0 C112.8,534.0 108.0,531.3 100.0,530.0 C92.0,528.7 79.3,528.5 70.0,528.0 C60.7,527.5 50.5,528.5 44.0,527.0 C37.5,525.5 33.3,522.7 31.0,519.0 C28.7,515.3 29.2,509.5 30.0,505.0 C30.8,500.5 33.7,495.8 36.0,492.0 C38.3,488.2 42.0,486.3 44.0,482.0 C46.0,477.7 46.7,471.0 48.0,466.0 C49.3,461.0 50.0,456.8 52.0,452.0 C54.0,447.2 57.3,441.5 60.0,437.0 C62.7,432.5 63.3,427.2 68.0,425.0Z" fill="#eef0f8" fill-opacity="0.8"/>
</g>
<g filter="url(#scs)">
<path d="M80.0,428.5 C81.0,427.6 88.0,427.8 92.0,427.5 C96.0,427.2 100.5,426.5 104.0,427.0 C107.5,427.5 111.0,429.4 112.7,430.6 C114.4,431.9 115.2,433.3 114.4,434.5 C113.6,435.7 110.4,436.8 108.0,438.0 C105.6,439.2 102.3,440.7 100.0,442.0 C97.7,443.3 95.7,446.3 94.0,446.0 C92.3,445.7 91.3,442.2 90.0,440.0 C88.7,437.8 87.7,434.9 86.0,433.0 C84.3,431.1 79.0,429.4 80.0,428.5Z" fill="#8a8cd0" fill-opacity="0.9"/>
</g>
<g filter="url(#sc)">
<path d="M71.0,427.5 C73.0,427.0 75.5,428.6 78.0,429.0 C80.5,429.4 83.7,429.4 86.0,430.0 C88.3,430.6 91.3,429.9 92.0,432.3 C92.7,434.7 90.8,440.9 90.2,444.4 C89.6,447.8 87.4,451.0 88.5,453.0 C89.6,455.0 94.7,455.3 97.0,456.5 C99.3,457.7 102.0,458.6 102.3,460.0 C102.6,461.4 100.8,463.8 98.8,465.2 C96.8,466.6 93.3,467.6 90.2,468.7 C87.1,469.8 83.4,470.4 80.0,472.0 C76.6,473.6 73.3,475.8 70.0,478.0 C66.7,480.2 63.3,482.7 60.0,485.0 C56.7,487.3 52.8,490.2 50.0,492.0 C47.2,493.8 44.0,496.7 43.0,496.0 C42.0,495.3 43.3,490.7 44.0,488.0 C44.7,485.3 45.9,483.5 47.0,480.0 C48.1,476.5 49.3,471.2 50.4,467.0 C51.5,462.8 52.2,459.1 53.8,454.8 C55.4,450.5 58.0,444.8 60.0,441.0 C62.0,437.2 64.2,434.2 66.0,432.0 C67.8,429.8 69.0,428.0 71.0,427.5Z" fill="#3c3e98" fill-opacity="1"/>
</g>
<g filter="url(#scs)">
<path d="M72.0,427.4 C74.3,426.8 76.7,428.5 80.0,428.5 C83.3,428.5 88.0,427.8 92.0,427.5 C96.0,427.2 100.5,426.5 104.0,427.0 C107.5,427.5 111.0,429.4 112.7,430.6 C114.4,431.9 115.5,433.1 114.4,434.5 C113.3,435.9 109.1,437.4 106.0,439.0 C102.9,440.6 99.0,442.5 96.0,444.0 C93.0,445.5 91.0,447.7 88.0,448.0 C85.0,448.3 81.3,446.8 78.0,446.0 C74.7,445.2 70.7,444.0 68.0,443.0 C65.3,442.0 62.3,441.8 62.0,440.0 C61.7,438.2 64.3,434.1 66.0,432.0 C67.7,429.9 69.7,428.0 72.0,427.4Z" fill="#8486cc" fill-opacity="0.9"/>
</g>
<g filter="url(#sc)">
<path d="M44.0,496.0 C46.3,494.5 49.0,492.1 52.0,490.0 C55.0,487.9 58.7,485.8 62.0,483.5 C65.3,481.2 69.3,478.3 72.0,476.5 C74.7,474.7 75.3,472.6 78.0,472.5 C80.7,472.4 84.3,474.4 88.0,476.0 C91.7,477.6 96.0,480.2 100.0,482.0 C104.0,483.8 108.0,485.5 112.0,487.0 C116.0,488.5 120.7,489.3 124.0,491.0 C127.3,492.7 130.3,494.5 132.0,497.0 C133.7,499.5 134.3,503.2 134.0,506.0 C133.7,508.8 133.0,512.0 130.0,514.0 C127.0,516.0 121.0,517.2 116.0,518.0 C111.0,518.8 106.0,518.8 100.0,519.0 C94.0,519.2 86.7,519.3 80.0,519.0 C73.3,518.7 66.0,518.0 60.0,517.0 C54.0,516.0 48.0,515.0 44.0,513.0 C40.0,511.0 37.0,507.3 36.0,505.0 C35.0,502.7 36.7,500.5 38.0,499.0 C39.3,497.5 41.7,497.5 44.0,496.0Z" fill="#3c6abc" fill-opacity="1"/>
</g>
<g filter="url(#scs)">
<path d="M46.0,514.0 C48.0,513.0 54.3,514.6 60.0,515.0 C65.7,515.4 73.3,516.2 80.0,516.5 C86.7,516.8 93.7,517.1 100.0,517.0 C106.3,516.9 112.7,516.8 118.0,516.0 C123.3,515.2 128.7,512.0 132.0,512.0 C135.3,512.0 137.3,514.0 138.0,516.0 C138.7,518.0 136.9,520.2 136.2,523.8 C135.5,527.4 135.0,535.2 133.8,537.7 C132.6,540.2 131.9,539.8 129.2,538.8 C126.5,537.8 122.3,534.1 117.7,532.0 C113.1,529.9 107.3,527.4 101.5,526.2 C95.7,525.0 89.9,525.6 83.0,525.0 C76.1,524.4 65.8,523.4 60.0,522.7 C54.2,522.0 50.3,522.5 48.0,521.0 C45.7,519.5 44.0,515.0 46.0,514.0Z" fill="#3c3c94" fill-opacity="0.95"/>
<path d="M124.6,492.7 C125.9,490.2 129.3,490.6 132.0,490.0 C134.7,489.4 137.8,489.1 140.8,489.2 C143.8,489.3 147.3,489.7 150.0,490.5 C152.7,491.3 155.0,492.7 157.0,493.8 C159.0,494.9 160.5,495.8 162.0,497.0 C163.5,498.2 165.7,498.6 166.2,500.8 C166.7,503.0 166.9,507.3 165.0,510.0 C163.1,512.7 158.6,515.2 154.6,516.9 C150.6,518.6 144.3,519.2 140.8,520.4 C137.3,521.5 135.9,524.5 133.8,523.8 C131.7,523.1 129.6,519.1 128.0,516.0 C126.4,512.9 124.6,508.9 124.0,505.0 C123.4,501.1 123.3,495.2 124.6,492.7Z" fill="#7a3a7a" fill-opacity="1"/>
</g>
<g filter="url(#sc)">
<path d="M150.0,516.5 C153.7,515.3 155.6,515.4 158.0,513.5 C160.4,511.6 163.1,507.8 164.5,505.0 C165.9,502.2 165.6,497.3 166.2,497.0 C166.8,496.7 168.2,500.5 168.0,503.0 C167.8,505.5 167.0,509.4 165.0,512.0 C163.0,514.6 159.8,516.8 156.0,518.5 C152.2,520.2 145.7,521.0 142.0,522.0 C138.3,523.0 135.0,524.8 134.0,524.5 C133.0,524.2 133.3,521.8 136.0,520.5 C138.7,519.2 146.3,517.7 150.0,516.5Z" fill="#7a1850" fill-opacity="1"/>
<path d="M118.0,500.0 C119.2,498.0 123.0,497.2 126.0,497.0 C129.0,496.8 133.5,497.7 136.0,499.0 C138.5,500.3 141.0,502.8 141.0,505.0 C141.0,507.2 138.5,510.5 136.0,512.0 C133.5,513.5 128.8,514.5 126.0,514.0 C123.2,513.5 120.3,511.3 119.0,509.0 C117.7,506.7 116.8,502.0 118.0,500.0Z" fill="#a02050" fill-opacity="0.95"/>
<path d="M128.0,526.0 C129.3,524.5 132.5,524.2 134.0,524.0 C135.5,523.8 136.8,523.3 137.0,524.5 C137.2,525.7 136.0,528.8 135.5,531.0 C135.0,533.2 134.9,536.4 133.8,537.7 C132.8,539.0 130.5,539.6 129.2,538.8 C127.9,538.0 126.2,535.1 126.0,533.0 C125.8,530.9 126.7,527.5 128.0,526.0Z" fill="#6a2a80" fill-opacity="1"/>
<path d="M32.0,506.0 C32.7,503.0 34.8,499.8 37.0,498.0 C39.2,496.2 42.3,495.4 45.0,495.5 C47.7,495.6 50.7,497.1 53.0,498.5 C55.3,499.9 57.7,501.8 59.0,504.0 C60.3,506.2 61.2,509.3 61.0,512.0 C60.8,514.7 59.8,518.1 58.0,520.0 C56.2,521.9 53.0,523.1 50.0,523.5 C47.0,523.9 42.8,523.8 40.0,522.5 C37.2,521.2 34.3,518.8 33.0,516.0 C31.7,513.2 31.3,509.0 32.0,506.0Z" fill="#e01c22" fill-opacity="1"/>
<path d="M50.0,497.0 C50.8,496.2 55.3,495.7 58.0,496.0 C60.7,496.3 64.0,497.5 66.0,499.0 C68.0,500.5 70.3,503.3 70.0,505.0 C69.7,506.7 66.0,508.8 64.0,509.0 C62.0,509.2 59.8,507.3 58.0,506.0 C56.2,504.7 54.3,502.5 53.0,501.0 C51.7,499.5 49.2,497.8 50.0,497.0Z" fill="#d86a80" fill-opacity="0.85"/>
<path d="M86.7,462.0 C87.6,460.6 89.7,458.7 92.0,458.3 C94.3,457.9 98.9,458.9 100.6,459.5 C102.3,460.1 102.8,460.9 102.0,462.0 C101.2,463.1 98.0,464.9 96.0,466.0 C94.0,467.1 91.6,468.5 90.0,468.7 C88.4,468.9 87.0,468.1 86.5,467.0 C86.0,465.9 85.8,463.4 86.7,462.0Z" fill="#d04a70" fill-opacity="0.9"/>
<path d="M146.5,464.0 C147.3,462.6 150.1,462.5 152.0,462.5 C153.9,462.5 157.0,462.8 158.0,464.0 C159.0,465.2 159.0,468.4 158.0,470.0 C157.0,471.6 153.8,473.3 152.0,473.5 C150.2,473.7 147.9,472.6 147.0,471.0 C146.1,469.4 145.7,465.4 146.5,464.0Z" fill="#e4b0c0" fill-opacity="0.9"/>
</g>
<g>
<path d="M128.1,473.5 C128.5,472.4 129.8,469.1 131.5,467.7 C133.2,466.2 136.2,465.5 138.5,464.8 C140.8,464.1 143.9,463.4 145.4,463.7 C146.9,464.0 148.1,465.4 147.7,466.5 C147.3,467.6 145.2,469.4 143.1,470.6 C141.0,471.8 137.3,472.8 135.0,473.5 C132.7,474.2 130.3,474.6 129.2,474.6 C128.0,474.6 127.7,474.6 128.1,473.5Z" fill="#3a64b4" fill-opacity="1"/>
<path d="M154.6,453.8 C155.2,452.6 156.9,452.3 158.1,452.7 C159.2,453.1 160.6,454.8 161.5,456.2 C162.4,457.6 164.2,460.2 163.8,461.3 C163.4,462.4 160.7,462.7 159.2,462.5 C157.7,462.3 155.4,461.6 154.6,460.2 C153.8,458.8 154.0,455.1 154.6,453.8Z" fill="#3a64b4" fill-opacity="1"/>
<path d="M159.2,467.1 C160.2,466.4 163.7,465.3 166.2,464.8 C168.7,464.3 172.6,463.9 174.2,464.2 C175.8,464.5 176.0,465.7 176.0,466.5 C176.0,467.3 175.8,468.5 174.2,468.8 C172.6,469.1 168.5,468.3 166.2,468.3 C163.9,468.3 161.6,469.0 160.4,468.8 C159.2,468.6 158.2,467.8 159.2,467.1Z" fill="#e01c22" fill-opacity="1"/>
<path d="M144.2,474.0 C144.6,473.3 146.6,473.2 147.2,473.8 C147.8,474.4 148.1,476.8 147.7,477.5 C147.3,478.2 145.6,478.6 145.0,478.0 C144.4,477.4 143.8,474.7 144.2,474.0Z" fill="#30a0b8" fill-opacity="1"/>
<path d="M108.0,430.0 C109.0,428.8 112.3,428.5 114.0,429.0 C115.7,429.5 118.2,431.5 118.0,433.0 C117.8,434.5 114.7,437.5 113.0,438.0 C111.3,438.5 108.8,437.3 108.0,436.0 C107.2,434.7 107.0,431.2 108.0,430.0Z" fill="#a890b0" fill-opacity="0.85"/>
<path d="M136,451.5 L142,457 L148.8,463" stroke="#6a7ab0" stroke-width="0.9" fill="none"/>
<path d="M107,440 L108,446 L106.5,452" stroke="#2a3a70" stroke-width="1.2" fill="none"/>
<path d="M70,427 L76,429.5 L82,431" stroke="#2a3470" stroke-width="1.6" fill="none"/>
</g>
<g filter="url(#sc)"><path d="M89.5,419.5 C88.4,418.4 89.5,415.0 89.8,413.0 C90.1,411.0 90.6,408.8 91.5,407.5 C92.4,406.2 93.7,405.4 95.0,405.2 C96.3,405.0 98.8,405.3 99.5,406.5 C100.2,407.7 99.7,410.3 99.2,412.5 C98.7,414.7 98.1,418.3 96.5,419.5 C94.9,420.7 90.6,420.6 89.5,419.5Z" fill="#3a5090"/></g>
<path d="M91.5,419 L92.5,411 L94.5,406 M95.5,406 L100.5,402.3 L103.5,402.6 L106.8,404.6" stroke="#22306a" stroke-width="1.3" fill="none" stroke-linejoin="round"/>
<path d="M74.5,407.5 L79,403.5 L81.5,404.5 M79,403.5 L78.5,408" stroke="#2a3a80" stroke-width="1.2" fill="none"/>
<rect x="71.6" y="418.4" width="14.2" height="6.2" fill="#8dc63f"/>
<text x="78.7" y="423.7" font-size="6.2" fill="#f0fae0" stroke="#f0fae0" stroke-width="0.22" text-anchor="middle" textLength="11.6" lengthAdjust="spacingAndGlyphs" >ETP</text>
<rect x="89.2" y="420.0" width="25.0" height="6.2" fill="#1a8a45"/>
<text x="101.7" y="425.3" font-size="6.2" fill="#e0f4e8" stroke="#e0f4e8" stroke-width="0.22" text-anchor="middle" textLength="20.5" lengthAdjust="spacingAndGlyphs" >PreBNK</text>
<rect x="115.1" y="434.5" width="13.8" height="6.4" fill="#f8d890"/>
<text x="122.0" y="439.9" font-size="6.2" fill="#5a4020" stroke="#5a4020" stroke-width="0.22" text-anchor="middle" textLength="11.3" lengthAdjust="spacingAndGlyphs" >MLP</text>
<rect x="120.3" y="488.6" width="16.4" height="6.0" fill="#2a2a6a"/>
<text x="128.5" y="493.8" font-size="6.2" fill="#e8e8f8" stroke="#e8e8f8" stroke-width="0.22" text-anchor="middle" textLength="13.4" lengthAdjust="spacingAndGlyphs" >MEP</text>
<rect x="106.8" y="501.0" width="16.6" height="6.2" fill="#a0601a"/>
<text x="115.1" y="506.3" font-size="6.2" fill="#fff0d8" stroke="#fff0d8" stroke-width="0.22" text-anchor="middle" textLength="13.6" lengthAdjust="spacingAndGlyphs" >MKP</text>
<rect x="52.1" y="500.6" width="15.6" height="6.2" fill="#f08080"/>
<text x="59.9" y="505.9" font-size="6.2" fill="#fff4f4" stroke="#fff4f4" stroke-width="0.22" text-anchor="middle" textLength="12.8" lengthAdjust="spacingAndGlyphs" >MPP</text>
<text x="80.6" y="505.4" font-size="6.4" fill="#c8dcf4" stroke="#c8dcf4" stroke-width="0.22" text-anchor="middle" textLength="14.5" lengthAdjust="spacingAndGlyphs" >CMP</text>
<text x="69.4" y="466.6" font-size="6.4" fill="#dde0f4" stroke="#dde0f4" stroke-width="0.22" text-anchor="middle" textLength="14.5" lengthAdjust="spacingAndGlyphs" >GMP</text>
<text x="43.0" y="518.6" font-size="6.6" fill="#ffe8e8" stroke="#ffe8e8" stroke-width="0.22" text-anchor="middle" textLength="13" lengthAdjust="spacingAndGlyphs" >HSC</text>
<rect x="128.4" y="501.6" width="12" height="7" fill="#a82048"/>
<text x="134.4" y="507.6" font-size="6.4" fill="#f8d0e0" stroke="#f8d0e0" stroke-width="0.22" text-anchor="middle" textLength="8.5" lengthAdjust="spacingAndGlyphs" >EP</text>
<text x="96.2" y="392.8" font-size="8.4" fill="#444" stroke="#444" stroke-width="0.22" text-anchor="middle" textLength="77.04" lengthAdjust="spacingAndGlyphs" >ADT-labeled samples</text>
<line x1="19.3" y1="519.4000000000001" x2="19.3" y2="542.6" stroke="#222" stroke-width="1"/><path d="M19.3,515.4000000000001 L22.1,521.2 L16.5,521.2 Z" fill="#222"/><line x1="11.1" y1="536.4000000000001" x2="40.2" y2="536.4000000000001" stroke="#222" stroke-width="1"/><path d="M44.2,536.4000000000001 L38.400000000000006,533.6000000000001 L38.400000000000006,539.2 Z" fill="#222"/><text x="23.3" y="547.8" font-size="8.8" fill="#3c3c3c" stroke="#3c3c3c" stroke-width="0.22" textLength="26.2" lengthAdjust="spacingAndGlyphs" >UMAP_1</text><g transform="translate(14.2,532.2) rotate(-90)"><text x="0" y="0" font-size="8.8" fill="#3c3c3c" stroke="#3c3c3c" stroke-width="0.22" textLength="26.2" lengthAdjust="spacingAndGlyphs" >UMAP_2</text></g>
<circle cx="191.9" cy="404.7" r="2.2" fill="#4a78b8"/>
<text x="196.8" y="407.1" font-size="7.0" fill="#444" stroke="#444" stroke-width="0.22" textLength="14.31" lengthAdjust="spacingAndGlyphs" >CMP</text>
<circle cx="191.9" cy="415.0" r="2.2" fill="#1a6a35"/>
<text x="196.8" y="417.4" font-size="7.0" fill="#444" stroke="#444" stroke-width="0.22" textLength="23.26" lengthAdjust="spacingAndGlyphs" >PreBNK</text>
<circle cx="191.9" cy="425.3" r="2.2" fill="#8cb050"/>
<text x="196.8" y="427.7" font-size="7.0" fill="#444" stroke="#444" stroke-width="0.22" textLength="12.52" lengthAdjust="spacingAndGlyphs" >ETP</text>
<circle cx="191.9" cy="435.6" r="2.2" fill="#f0d090"/>
<text x="196.8" y="438.0" font-size="7.0" fill="#444" stroke="#444" stroke-width="0.22" textLength="13.24" lengthAdjust="spacingAndGlyphs" >MLP</text>
<circle cx="191.9" cy="445.9" r="2.2" fill="#5a0a30"/>
<text x="196.8" y="448.3" font-size="7.0" fill="#444" stroke="#444" stroke-width="0.22" textLength="8.59" lengthAdjust="spacingAndGlyphs" >EP</text>
<circle cx="191.9" cy="456.1" r="2.2" fill="#7a3a20"/>
<text x="196.8" y="458.5" font-size="7.0" fill="#444" stroke="#444" stroke-width="0.22" textLength="13.96" lengthAdjust="spacingAndGlyphs" >MKP</text>
<circle cx="191.9" cy="466.4" r="2.2" fill="#1a1a60"/>
<text x="196.8" y="468.8" font-size="7.0" fill="#444" stroke="#444" stroke-width="0.22" textLength="13.96" lengthAdjust="spacingAndGlyphs" >MEP</text>
<circle cx="191.9" cy="476.7" r="2.2" fill="#2a3a80"/>
<text x="196.8" y="479.1" font-size="7.0" fill="#444" stroke="#444" stroke-width="0.22" textLength="14.67" lengthAdjust="spacingAndGlyphs" >GMP</text>
<circle cx="191.9" cy="487.0" r="2.2" fill="#e08080"/>
<text x="196.8" y="489.4" font-size="7.0" fill="#444" stroke="#444" stroke-width="0.22" textLength="13.96" lengthAdjust="spacingAndGlyphs" >MPP</text>
<circle cx="191.9" cy="497.3" r="2.2" fill="#d01a2a"/>
<text x="196.8" y="499.7" font-size="7.0" fill="#444" stroke="#444" stroke-width="0.22" textLength="13.6" lengthAdjust="spacingAndGlyphs" >HSC</text>
<rect x="0.5" y="0.5" width="519" height="556" fill="none" stroke="#555" stroke-width="1"/>
</svg>
</body></html>
